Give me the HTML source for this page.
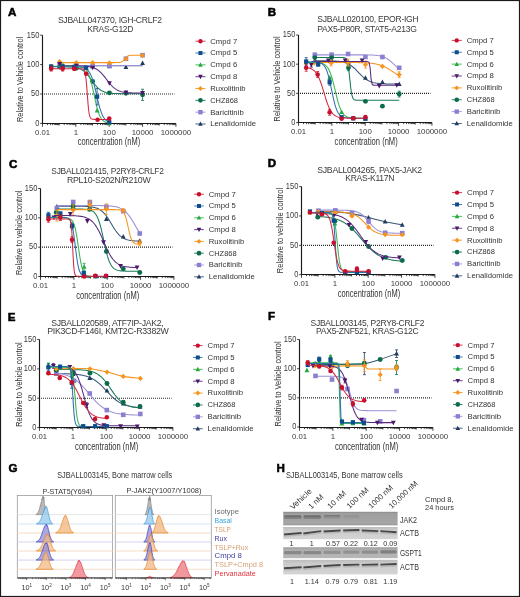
<!DOCTYPE html>
<html><head><meta charset="utf-8"><style>
html,body{margin:0;padding:0;background:#fff;}
svg{display:block;font-family:"Liberation Sans", sans-serif;will-change:transform;}
</style></head><body>
<svg width="520" height="597" viewBox="0 0 520 597">
<rect x="0" y="0" width="520" height="597" fill="#fff"/>
<text x="8.10" y="15.90" font-size="11.6" fill="#000" font-weight="bold" stroke="#000" stroke-width="0.55">A</text>
<text x="57.90" y="22.60" font-size="9.6" textLength="103.85" lengthAdjust="spacingAndGlyphs" fill="#3a3a3a" letter-spacing="-0.3">SJBALL047370, IGH-CRLF2</text>
<text x="87.30" y="31.80" font-size="9.6" textLength="45.95" lengthAdjust="spacingAndGlyphs" fill="#3a3a3a" letter-spacing="-0.3">KRAS-G12D</text>
<path d="M42.50 35.20V123.50H175.94" fill="none" stroke="#1a1a1a" stroke-width="1.15"/>
<text x="39.30" y="125.70" font-size="8.4" text-anchor="end" textLength="4.15" lengthAdjust="spacingAndGlyphs" fill="#3a3a3a">0</text>
<text x="39.30" y="96.30" font-size="8.4" text-anchor="end" textLength="8.30" lengthAdjust="spacingAndGlyphs" fill="#3a3a3a">50</text>
<text x="39.30" y="66.90" font-size="8.4" text-anchor="end" textLength="12.45" lengthAdjust="spacingAndGlyphs" fill="#3a3a3a">100</text>
<text x="39.30" y="37.50" font-size="8.4" text-anchor="end" textLength="12.45" lengthAdjust="spacingAndGlyphs" fill="#3a3a3a">150</text>
<path d="M40.10 123.40H42.50M40.10 94.00H42.50M40.10 64.60H42.50M40.10 35.20H42.50M42.50 123.50v3.3M47.52 123.50v1.6M50.46 123.50v1.6M52.54 123.50v1.6M54.16 123.50v1.6M55.48 123.50v1.6M56.60 123.50v1.6M57.56 123.50v1.6M58.42 123.50v1.6M59.18 123.50v2.0M64.20 123.50v1.6M67.14 123.50v1.6M69.22 123.50v1.6M70.84 123.50v1.6M72.16 123.50v1.6M73.28 123.50v1.6M74.24 123.50v1.6M75.10 123.50v1.6M75.86 123.50v3.3M80.88 123.50v1.6M83.82 123.50v1.6M85.90 123.50v1.6M87.52 123.50v1.6M88.84 123.50v1.6M89.96 123.50v1.6M90.92 123.50v1.6M91.78 123.50v1.6M92.54 123.50v2.0M97.56 123.50v1.6M100.50 123.50v1.6M102.58 123.50v1.6M104.20 123.50v1.6M105.52 123.50v1.6M106.64 123.50v1.6M107.60 123.50v1.6M108.46 123.50v1.6M109.22 123.50v3.3M114.24 123.50v1.6M117.18 123.50v1.6M119.26 123.50v1.6M120.88 123.50v1.6M122.20 123.50v1.6M123.32 123.50v1.6M124.28 123.50v1.6M125.14 123.50v1.6M125.90 123.50v2.0M130.92 123.50v1.6M133.86 123.50v1.6M135.94 123.50v1.6M137.56 123.50v1.6M138.88 123.50v1.6M140.00 123.50v1.6M140.96 123.50v1.6M141.82 123.50v1.6M142.58 123.50v3.3M147.60 123.50v1.6M150.54 123.50v1.6M152.62 123.50v1.6M154.24 123.50v1.6M155.56 123.50v1.6M156.68 123.50v1.6M157.64 123.50v1.6M158.50 123.50v1.6M159.26 123.50v2.0M164.28 123.50v1.6M167.22 123.50v1.6M169.30 123.50v1.6M170.92 123.50v1.6M172.24 123.50v1.6M173.36 123.50v1.6M174.32 123.50v1.6M175.18 123.50v1.6M175.94 123.50v3.3" stroke="#1a1a1a" stroke-width="0.8" fill="none"/>
<text x="42.50" y="134.90" font-size="8.0" text-anchor="middle" textLength="15.01" lengthAdjust="spacingAndGlyphs" fill="#3a3a3a">0.01</text>
<text x="75.86" y="134.90" font-size="8.0" text-anchor="middle" textLength="4.37" lengthAdjust="spacingAndGlyphs" fill="#3a3a3a">1</text>
<text x="109.22" y="134.90" font-size="8.0" text-anchor="middle" textLength="13.11" lengthAdjust="spacingAndGlyphs" fill="#3a3a3a">100</text>
<text x="142.58" y="134.90" font-size="8.0" text-anchor="middle" textLength="21.85" lengthAdjust="spacingAndGlyphs" fill="#3a3a3a">10000</text>
<text x="175.94" y="134.90" font-size="8.0" text-anchor="middle" textLength="30.59" lengthAdjust="spacingAndGlyphs" fill="#3a3a3a">1000000</text>
<text x="77.70" y="145.40" font-size="10.0" textLength="62.50" lengthAdjust="spacingAndGlyphs" fill="#333">concentration (nM)</text>
<text x="23.20" y="79.40" font-size="9.6" text-anchor="middle" textLength="85.40" lengthAdjust="spacingAndGlyphs" fill="#333" transform="rotate(-90 23.20 79.40)">Relative to Vehicle control</text>
<path d="M44.00 94.00H174.44" stroke="#222" stroke-width="1.2" stroke-dasharray="1 1" fill="none"/>
<path d="M195.40 41.20H205.50" stroke="#d42a40" stroke-width="1.0" opacity="0.9"/>
<circle cx="200.45" cy="41.20" r="2.18" fill="#c8102e"/>
<text x="210.20" y="43.60" font-size="8.1" textLength="27.00" lengthAdjust="spacingAndGlyphs" fill="#333">Cmpd 7</text>
<path d="M195.40 53.03H205.50" stroke="#2f6fb0" stroke-width="1.0" opacity="0.9"/>
<rect x="198.45" y="51.04" width="3.99" height="3.99" fill="#0d4d8c"/>
<text x="210.20" y="55.43" font-size="8.1" textLength="27.00" lengthAdjust="spacingAndGlyphs" fill="#333">Cmpd 5</text>
<path d="M195.40 64.86H205.50" stroke="#38b54e" stroke-width="1.0" opacity="0.9"/>
<path d="M200.45 62.35L202.73 66.68L198.17 66.68Z" fill="#27a83f"/>
<text x="210.20" y="67.26" font-size="8.1" textLength="27.00" lengthAdjust="spacingAndGlyphs" fill="#333">Cmpd 6</text>
<path d="M195.40 76.69H205.50" stroke="#5a2a80" stroke-width="1.0" opacity="0.9"/>
<path d="M200.45 79.20L202.73 74.87L198.17 74.87Z" fill="#4a1769"/>
<text x="210.20" y="79.09" font-size="8.1" textLength="27.00" lengthAdjust="spacingAndGlyphs" fill="#333">Cmpd 8</text>
<path d="M195.40 88.52H205.50" stroke="#f7941d" stroke-width="1.0" opacity="0.9"/>
<path d="M200.45 86.05L202.92 88.52L200.45 90.99L197.98 88.52Z" fill="#f7941d"/>
<text x="210.20" y="90.92" font-size="8.1" textLength="35.40" lengthAdjust="spacingAndGlyphs" fill="#333">Ruxolitinib</text>
<path d="M195.40 100.35H205.50" stroke="#1a7a58" stroke-width="1.0" opacity="0.9"/>
<circle cx="200.45" cy="100.35" r="2.33" fill="#0b6b4a"/>
<text x="210.20" y="102.75" font-size="8.1" textLength="27.80" lengthAdjust="spacingAndGlyphs" fill="#333">CHZ868</text>
<path d="M195.40 112.18H205.50" stroke="#9a90d8" stroke-width="1.0" opacity="0.9"/>
<rect x="198.26" y="110.00" width="4.37" height="4.37" fill="#8b7fd0"/>
<text x="210.20" y="114.58" font-size="8.1" textLength="33.50" lengthAdjust="spacingAndGlyphs" fill="#333">Baricitinib</text>
<path d="M195.40 124.01H205.50" stroke="#3a5576" stroke-width="1.0" opacity="0.9"/>
<path d="M200.45 121.50L202.73 125.83L198.17 125.83Z" fill="#1e3a5c"/>
<text x="210.20" y="126.41" font-size="8.1" textLength="45.90" lengthAdjust="spacingAndGlyphs" fill="#333">Lenalidomide</text>
<path d="M59.15 65.78L142.57 65.78" stroke="#3a5576" stroke-width="1.05" fill="none"/>
<path d="M59.65 63.14L62.05 67.70L57.25 67.70Z" fill="#1e3a5c"/>
<path d="M76.30 63.72L78.70 68.28L73.90 68.28Z" fill="#1e3a5c"/>
<path d="M92.62 63.72L95.02 68.28L90.22 68.28Z" fill="#1e3a5c"/>
<path d="M109.43 63.72L111.83 68.28L107.03 68.28Z" fill="#1e3a5c"/>
<path d="M125.92 64.49L128.32 69.05L123.52 69.05Z" fill="#1e3a5c"/>
<path d="M142.57 60.55L144.97 65.11L140.17 65.11Z" fill="#1e3a5c"/>
<path d="M59.15 65.48L142.57 65.48" stroke="#9a90d8" stroke-width="1.05" fill="none"/>
<rect x="57.35" y="62.30" width="4.60" height="4.60" fill="#8b7fd0"/>
<rect x="74.00" y="63.48" width="4.60" height="4.60" fill="#8b7fd0"/>
<rect x="90.32" y="63.48" width="4.60" height="4.60" fill="#8b7fd0"/>
<rect x="107.13" y="63.36" width="4.60" height="4.60" fill="#8b7fd0"/>
<rect x="123.62" y="56.42" width="4.60" height="4.60" fill="#8b7fd0"/>
<rect x="140.27" y="52.89" width="4.60" height="4.60" fill="#8b7fd0"/>
<path d="M59.15 66.69L60.19 66.70L61.24 66.71L62.28 66.72L63.32 66.73L64.36 66.75L65.41 66.78L66.45 66.80L67.49 66.84L68.53 66.88L69.58 66.93L70.62 67.00L71.66 67.08L72.71 67.18L73.75 67.31L74.79 67.46L75.83 67.64L76.88 67.87L77.92 68.15L78.96 68.48L80.00 68.89L81.05 69.37L82.09 69.95L83.13 70.63L84.17 71.42L85.22 72.33L86.26 73.36L87.30 74.50L88.35 75.76L89.39 77.11L90.43 78.53L91.47 79.98L92.52 81.44L93.56 82.87L94.60 84.24L95.64 85.52L96.69 86.70L97.73 87.77L98.77 88.71L99.82 89.53L100.86 90.24L101.90 90.84L102.94 91.35L103.99 91.78L105.03 92.13L106.07 92.42L107.11 92.66L108.16 92.86L109.20 93.02L110.24 93.15L111.29 93.26L112.33 93.34L113.37 93.41L114.41 93.47L115.46 93.51L116.50 93.55L117.54 93.58L118.58 93.61L119.63 93.63L120.67 93.64L121.71 93.65L122.76 93.66L123.80 93.67L124.84 93.68L125.88 93.68L126.93 93.69L127.97 93.69L129.01 93.69L130.05 93.70L131.10 93.70L132.14 93.70L133.18 93.70L134.22 93.70L135.27 93.70L136.31 93.70L137.35 93.70L138.40 93.70L139.44 93.70L140.48 93.70L141.52 93.71L142.57 93.71" stroke="#1a7a58" stroke-width="1.05" fill="none"/>
<circle cx="59.65" cy="66.95" r="2.45" fill="#0b6b4a"/>
<circle cx="76.30" cy="68.13" r="2.45" fill="#0b6b4a"/>
<circle cx="92.62" cy="81.48" r="2.45" fill="#0b6b4a"/>
<circle cx="109.43" cy="92.88" r="2.45" fill="#0b6b4a"/>
<circle cx="125.92" cy="93.29" r="2.45" fill="#0b6b4a"/>
<path d="M142.57 89.24V100.41M141.07 89.24h3M141.07 100.41h3" stroke="#0b6b4a" stroke-width="0.8" fill="none"/>
<circle cx="142.57" cy="94.82" r="2.45" fill="#0b6b4a"/>
<path d="M59.15 62.60L60.19 62.60L61.24 62.60L62.28 62.60L63.32 62.60L64.36 62.60L65.41 62.60L66.45 62.60L67.49 62.60L68.53 62.60L69.58 62.60L70.62 62.60L71.66 62.60L72.71 62.60L73.75 62.60L74.79 62.60L75.83 62.60L76.88 62.60L77.92 62.60L78.96 62.60L80.00 62.60L81.05 62.60L82.09 62.60L83.13 62.60L84.17 62.60L85.22 62.60L86.26 62.60L87.30 62.60L88.35 62.60L89.39 62.60L90.43 62.60L91.47 62.60L92.52 62.60L93.56 62.60L94.60 62.60L95.64 62.60L96.69 62.60L97.73 62.60L98.77 62.60L99.82 62.60L100.86 62.60L101.90 62.60L102.94 62.60L103.99 62.60L105.03 62.60L106.07 62.60L107.11 62.60L108.16 62.60L109.20 62.60L110.24 62.60L111.29 62.60L112.33 62.60L113.37 62.60L114.41 62.60L115.46 62.59L116.50 62.58L117.54 62.56L118.58 62.51L119.63 62.41L120.67 62.23L121.71 61.87L122.76 61.24L123.80 60.26L124.84 59.00L125.88 57.70L126.93 56.67L127.97 55.99L129.01 55.60L130.05 55.40L131.10 55.29L132.14 55.24L133.18 55.22L134.22 55.20L135.27 55.20L136.31 55.19L137.35 55.19L138.40 55.19L139.44 55.19L140.48 55.19L141.52 55.19L142.57 55.19" stroke="#f7941d" stroke-width="1.05" fill="none"/>
<path d="M59.65 59.06L62.25 61.66L59.65 64.26L57.05 61.66Z" fill="#f7941d"/>
<path d="M76.30 60.06L78.90 62.66L76.30 65.26L73.70 62.66Z" fill="#f7941d"/>
<path d="M92.62 60.00L95.22 62.60L92.62 65.20L90.02 62.60Z" fill="#f7941d"/>
<path d="M109.43 60.35L112.03 62.95L109.43 65.55L106.83 62.95Z" fill="#f7941d"/>
<path d="M125.92 56.36L128.52 58.96L125.92 61.56L123.32 58.96Z" fill="#f7941d"/>
<path d="M142.57 52.89L145.17 55.49L142.57 58.09L139.97 55.49Z" fill="#f7941d"/>
<path d="M59.15 65.78L60.19 65.78L61.24 65.78L62.28 65.78L63.32 65.78L64.36 65.78L65.41 65.79L66.45 65.79L67.49 65.79L68.53 65.79L69.58 65.80L70.62 65.80L71.66 65.81L72.71 65.81L73.75 65.82L74.79 65.83L75.83 65.85L76.88 65.86L77.92 65.88L78.96 65.91L80.00 65.93L81.05 65.97L82.09 66.01L83.13 66.06L84.17 66.13L85.22 66.20L86.26 66.30L87.30 66.41L88.35 66.55L89.39 66.72L90.43 66.92L91.47 67.16L92.52 67.45L93.56 67.80L94.60 68.21L95.64 68.70L96.69 69.27L97.73 69.94L98.77 70.70L99.82 71.57L100.86 72.54L101.90 73.62L102.94 74.80L103.99 76.06L105.03 77.38L106.07 78.75L107.11 80.12L108.16 81.49L109.20 82.81L110.24 84.07L111.29 85.25L112.33 86.33L113.37 87.31L114.41 88.18L115.46 88.94L116.50 89.61L117.54 90.18L118.58 90.67L119.63 91.09L120.67 91.43L121.71 91.73L122.76 91.97L123.80 92.17L124.84 92.34L125.88 92.48L126.93 92.59L127.97 92.69L129.01 92.77L130.05 92.83L131.10 92.88L132.14 92.92L133.18 92.96L134.22 92.99L135.27 93.01L136.31 93.03L137.35 93.05L138.40 93.06L139.44 93.07L140.48 93.08L141.52 93.09L142.57 93.09" stroke="#5a2a80" stroke-width="1.05" fill="none"/>
<path d="M59.65 66.65L62.05 62.09L57.25 62.09Z" fill="#4a1769"/>
<path d="M76.30 68.42L78.70 63.86L73.90 63.86Z" fill="#4a1769"/>
<path d="M92.62 70.36L95.02 65.80L90.22 65.80Z" fill="#4a1769"/>
<path d="M109.43 85.76L111.83 81.20L107.03 81.20Z" fill="#4a1769"/>
<path d="M125.92 95.17L128.32 90.61L123.52 90.61Z" fill="#4a1769"/>
<path d="M142.57 95.46L144.97 90.90L140.17 90.90Z" fill="#4a1769"/>
<path d="M50.83 66.36L51.56 66.36L52.29 66.36L53.02 66.36L53.76 66.36L54.49 66.36L55.22 66.36L55.95 66.36L56.69 66.36L57.42 66.36L58.15 66.36L58.88 66.36L59.62 66.36L60.35 66.36L61.08 66.36L61.81 66.37L62.55 66.37L63.28 66.37L64.01 66.37L64.74 66.37L65.48 66.37L66.21 66.37L66.94 66.37L67.67 66.37L68.41 66.38L69.14 66.38L69.87 66.38L70.61 66.39L71.34 66.39L72.07 66.40L72.80 66.41L73.54 66.43L74.27 66.44L75.00 66.46L75.73 66.49L76.47 66.53L77.20 66.57L77.93 66.63L78.66 66.70L79.40 66.79L80.13 66.91L80.86 67.06L81.59 67.24L82.33 67.48L83.06 67.78L83.79 68.16L84.52 68.63L85.26 69.23L85.99 69.97L86.72 70.88L87.45 72.00L88.19 73.36L88.92 75.00L89.65 76.93L90.39 79.19L91.12 81.76L91.85 84.64L92.58 87.78L93.32 91.12L94.05 94.57L94.78 98.02L95.51 101.38L96.25 104.57L96.98 107.50L97.71 110.13L98.44 112.45L99.18 114.44L99.91 116.13L100.64 117.54L101.37 118.70L102.11 119.65L102.84 120.41L103.57 121.03L104.30 121.53L105.04 121.92L105.77 122.23L106.50 122.48L107.24 122.68L107.97 122.83L108.70 122.95L109.43 123.05" stroke="#38b54e" stroke-width="1.05" fill="none"/>
<path d="M51.16 63.72L53.56 68.28L48.76 68.28Z" fill="#27a83f"/>
<path d="M62.98 62.55L65.38 67.11L60.58 67.11Z" fill="#27a83f"/>
<path d="M74.13 63.72L76.53 68.28L71.73 68.28Z" fill="#27a83f"/>
<path d="M86.12 64.90L88.52 69.46L83.72 69.46Z" fill="#27a83f"/>
<path d="M97.11 107.82L99.51 112.38L94.71 112.38Z" fill="#27a83f"/>
<path d="M109.27 120.76L111.67 125.32L106.87 125.32Z" fill="#27a83f"/>
<path d="M50.83 66.66L51.56 66.66L52.29 66.66L53.02 66.66L53.76 66.66L54.49 66.66L55.22 66.66L55.95 66.66L56.69 66.66L57.42 66.66L58.15 66.66L58.88 66.66L59.62 66.66L60.35 66.66L61.08 66.66L61.81 66.66L62.55 66.66L63.28 66.66L64.01 66.66L64.74 66.66L65.48 66.66L66.21 66.66L66.94 66.66L67.67 66.67L68.41 66.67L69.14 66.67L69.87 66.67L70.61 66.68L71.34 66.68L72.07 66.69L72.80 66.70L73.54 66.71L74.27 66.72L75.00 66.74L75.73 66.76L76.47 66.78L77.20 66.81L77.93 66.85L78.66 66.90L79.40 66.96L80.13 67.03L80.86 67.12L81.59 67.24L82.33 67.38L83.06 67.56L83.79 67.78L84.52 68.06L85.26 68.40L85.99 68.81L86.72 69.33L87.45 69.95L88.19 70.72L88.92 71.64L89.65 72.75L90.39 74.08L91.12 75.63L91.85 77.45L92.58 79.53L93.32 81.88L94.05 84.49L94.78 87.32L95.51 90.33L96.25 93.45L96.98 96.61L97.71 99.73L98.44 102.74L99.18 105.57L99.91 108.17L100.64 110.53L101.37 112.61L102.11 114.42L102.84 115.98L103.57 117.31L104.30 118.42L105.04 119.34L105.77 120.10L106.50 120.73L107.24 121.24L107.97 121.66L108.70 122.00L109.43 122.27" stroke="#2f6fb0" stroke-width="1.05" fill="none"/>
<rect x="49.06" y="64.26" width="4.20" height="4.20" fill="#0d4d8c"/>
<rect x="60.55" y="64.26" width="4.20" height="4.20" fill="#0d4d8c"/>
<rect x="72.03" y="64.85" width="4.20" height="4.20" fill="#0d4d8c"/>
<rect x="84.02" y="65.62" width="4.20" height="4.20" fill="#0d4d8c"/>
<path d="M97.11 88.47V104.94M95.61 88.47h3M95.61 104.94h3" stroke="#0d4d8c" stroke-width="0.8" fill="none"/>
<rect x="95.01" y="94.60" width="4.20" height="4.20" fill="#0d4d8c"/>
<rect x="107.17" y="120.12" width="4.20" height="4.20" fill="#0d4d8c"/>
<path d="M50.83 68.72L51.56 68.72L52.29 68.72L53.02 68.72L53.76 68.72L54.49 68.72L55.22 68.72L55.95 68.72L56.69 68.72L57.42 68.72L58.15 68.72L58.88 68.72L59.62 68.72L60.35 68.72L61.08 68.72L61.81 68.72L62.55 68.72L63.28 68.72L64.01 68.72L64.74 68.72L65.48 68.72L66.21 68.72L66.94 68.72L67.67 68.72L68.41 68.72L69.14 68.72L69.87 68.72L70.61 68.72L71.34 68.72L72.07 68.72L72.80 68.72L73.54 68.72L74.27 68.72L75.00 68.72L75.73 68.72L76.47 68.72L77.20 68.72L77.93 68.72L78.66 68.72L79.40 68.72L80.13 68.73L80.86 68.76L81.59 68.81L82.33 68.92L83.06 69.18L83.79 69.75L84.52 70.99L85.26 73.56L85.99 78.45L86.72 86.37L87.45 96.39L88.19 105.72L88.92 112.24L89.65 115.95L90.39 117.81L91.12 118.68L91.85 119.08L92.58 119.26L93.32 119.34L94.05 119.37L94.78 119.39L95.51 119.40L96.25 119.40L96.98 119.40L97.71 119.40L98.44 119.40L99.18 119.40L99.91 119.40L100.64 119.40L101.37 119.40L102.11 119.40L102.84 119.40L103.57 119.40L104.30 119.40L105.04 119.40L105.77 119.40L106.50 119.40L107.24 119.40L107.97 119.40L108.70 119.40L109.43 119.40" stroke="#d42a40" stroke-width="1.05" fill="none"/>
<path d="M51.16 66.36V71.07M49.66 66.36h3M49.66 71.07h3" stroke="#c8102e" stroke-width="0.8" fill="none"/>
<circle cx="51.16" cy="68.72" r="2.30" fill="#c8102e"/>
<path d="M62.65 66.36V71.07M61.15 66.36h3M61.15 71.07h3" stroke="#c8102e" stroke-width="0.8" fill="none"/>
<circle cx="62.65" cy="68.72" r="2.30" fill="#c8102e"/>
<path d="M74.30 66.95V70.48M72.80 66.95h3M72.80 70.48h3" stroke="#c8102e" stroke-width="0.8" fill="none"/>
<circle cx="74.30" cy="68.72" r="2.30" fill="#c8102e"/>
<circle cx="86.12" cy="73.71" r="2.30" fill="#c8102e"/>
<circle cx="97.61" cy="119.70" r="2.30" fill="#c8102e"/>
<circle cx="109.27" cy="118.58" r="2.30" fill="#c8102e"/>
<text x="267.70" y="15.50" font-size="11.6" fill="#000" font-weight="bold" stroke="#000" stroke-width="0.55">B</text>
<text x="317.30" y="22.10" font-size="9.6" textLength="101.20" lengthAdjust="spacingAndGlyphs" fill="#3a3a3a" letter-spacing="-0.3">SJBALL020100, EPOR-IGH</text>
<text x="317.20" y="31.90" font-size="9.6" textLength="99.50" lengthAdjust="spacingAndGlyphs" fill="#3a3a3a" letter-spacing="-0.3">PAX5-P80R, STAT5-A213G</text>
<path d="M298.50 35.00V122.50H431.94" fill="none" stroke="#1a1a1a" stroke-width="1.15"/>
<text x="295.30" y="124.90" font-size="8.4" text-anchor="end" textLength="4.15" lengthAdjust="spacingAndGlyphs" fill="#3a3a3a">0</text>
<text x="295.30" y="95.70" font-size="8.4" text-anchor="end" textLength="8.30" lengthAdjust="spacingAndGlyphs" fill="#3a3a3a">50</text>
<text x="295.30" y="66.50" font-size="8.4" text-anchor="end" textLength="12.45" lengthAdjust="spacingAndGlyphs" fill="#3a3a3a">100</text>
<text x="295.30" y="37.30" font-size="8.4" text-anchor="end" textLength="12.45" lengthAdjust="spacingAndGlyphs" fill="#3a3a3a">150</text>
<path d="M296.10 122.60H298.50M296.10 93.40H298.50M296.10 64.20H298.50M296.10 35.00H298.50M298.50 122.50v3.3M303.52 122.50v1.6M306.46 122.50v1.6M308.54 122.50v1.6M310.16 122.50v1.6M311.48 122.50v1.6M312.60 122.50v1.6M313.56 122.50v1.6M314.42 122.50v1.6M315.18 122.50v2.0M320.20 122.50v1.6M323.14 122.50v1.6M325.22 122.50v1.6M326.84 122.50v1.6M328.16 122.50v1.6M329.28 122.50v1.6M330.24 122.50v1.6M331.10 122.50v1.6M331.86 122.50v3.3M336.88 122.50v1.6M339.82 122.50v1.6M341.90 122.50v1.6M343.52 122.50v1.6M344.84 122.50v1.6M345.96 122.50v1.6M346.92 122.50v1.6M347.78 122.50v1.6M348.54 122.50v2.0M353.56 122.50v1.6M356.50 122.50v1.6M358.58 122.50v1.6M360.20 122.50v1.6M361.52 122.50v1.6M362.64 122.50v1.6M363.60 122.50v1.6M364.46 122.50v1.6M365.22 122.50v3.3M370.24 122.50v1.6M373.18 122.50v1.6M375.26 122.50v1.6M376.88 122.50v1.6M378.20 122.50v1.6M379.32 122.50v1.6M380.28 122.50v1.6M381.14 122.50v1.6M381.90 122.50v2.0M386.92 122.50v1.6M389.86 122.50v1.6M391.94 122.50v1.6M393.56 122.50v1.6M394.88 122.50v1.6M396.00 122.50v1.6M396.96 122.50v1.6M397.82 122.50v1.6M398.58 122.50v3.3M403.60 122.50v1.6M406.54 122.50v1.6M408.62 122.50v1.6M410.24 122.50v1.6M411.56 122.50v1.6M412.68 122.50v1.6M413.64 122.50v1.6M414.50 122.50v1.6M415.26 122.50v2.0M420.28 122.50v1.6M423.22 122.50v1.6M425.30 122.50v1.6M426.92 122.50v1.6M428.24 122.50v1.6M429.36 122.50v1.6M430.32 122.50v1.6M431.18 122.50v1.6M431.94 122.50v3.3" stroke="#1a1a1a" stroke-width="0.8" fill="none"/>
<text x="298.50" y="134.10" font-size="8.0" text-anchor="middle" textLength="15.01" lengthAdjust="spacingAndGlyphs" fill="#3a3a3a">0.01</text>
<text x="331.86" y="134.10" font-size="8.0" text-anchor="middle" textLength="4.37" lengthAdjust="spacingAndGlyphs" fill="#3a3a3a">1</text>
<text x="365.22" y="134.10" font-size="8.0" text-anchor="middle" textLength="13.11" lengthAdjust="spacingAndGlyphs" fill="#3a3a3a">100</text>
<text x="398.58" y="134.10" font-size="8.0" text-anchor="middle" textLength="21.85" lengthAdjust="spacingAndGlyphs" fill="#3a3a3a">10000</text>
<text x="431.94" y="134.10" font-size="8.0" text-anchor="middle" textLength="30.59" lengthAdjust="spacingAndGlyphs" fill="#3a3a3a">1000000</text>
<text x="334.60" y="145.20" font-size="10.0" textLength="63.10" lengthAdjust="spacingAndGlyphs" fill="#333">concentration (nM)</text>
<text x="280.10" y="78.90" font-size="9.6" text-anchor="middle" textLength="85.00" lengthAdjust="spacingAndGlyphs" fill="#333" transform="rotate(-90 280.10 78.90)">Relative to Vehicle control</text>
<path d="M300.00 93.40H430.44" stroke="#222" stroke-width="1.2" stroke-dasharray="1 1" fill="none"/>
<path d="M451.70 40.40H461.80" stroke="#d42a40" stroke-width="1.0" opacity="0.9"/>
<circle cx="456.75" cy="40.40" r="2.18" fill="#c8102e"/>
<text x="466.80" y="42.80" font-size="8.1" textLength="27.00" lengthAdjust="spacingAndGlyphs" fill="#333">Cmpd 7</text>
<path d="M451.70 52.27H461.80" stroke="#2f6fb0" stroke-width="1.0" opacity="0.9"/>
<rect x="454.75" y="50.27" width="3.99" height="3.99" fill="#0d4d8c"/>
<text x="466.80" y="54.67" font-size="8.1" textLength="27.00" lengthAdjust="spacingAndGlyphs" fill="#333">Cmpd 5</text>
<path d="M451.70 64.14H461.80" stroke="#38b54e" stroke-width="1.0" opacity="0.9"/>
<path d="M456.75 61.63L459.03 65.96L454.47 65.96Z" fill="#27a83f"/>
<text x="466.80" y="66.54" font-size="8.1" textLength="27.00" lengthAdjust="spacingAndGlyphs" fill="#333">Cmpd 6</text>
<path d="M451.70 76.01H461.80" stroke="#5a2a80" stroke-width="1.0" opacity="0.9"/>
<path d="M456.75 78.52L459.03 74.19L454.47 74.19Z" fill="#4a1769"/>
<text x="466.80" y="78.41" font-size="8.1" textLength="27.00" lengthAdjust="spacingAndGlyphs" fill="#333">Cmpd 8</text>
<path d="M451.70 87.88H461.80" stroke="#f7941d" stroke-width="1.0" opacity="0.9"/>
<path d="M456.75 85.41L459.22 87.88L456.75 90.35L454.28 87.88Z" fill="#f7941d"/>
<text x="466.80" y="90.28" font-size="8.1" textLength="35.40" lengthAdjust="spacingAndGlyphs" fill="#333">Ruxolitinib</text>
<path d="M451.70 99.75H461.80" stroke="#1a7a58" stroke-width="1.0" opacity="0.9"/>
<circle cx="456.75" cy="99.75" r="2.33" fill="#0b6b4a"/>
<text x="466.80" y="102.15" font-size="8.1" textLength="27.80" lengthAdjust="spacingAndGlyphs" fill="#333">CHZ868</text>
<path d="M451.70 111.62H461.80" stroke="#9a90d8" stroke-width="1.0" opacity="0.9"/>
<rect x="454.56" y="109.44" width="4.37" height="4.37" fill="#8b7fd0"/>
<text x="466.80" y="114.02" font-size="8.1" textLength="33.50" lengthAdjust="spacingAndGlyphs" fill="#333">Baricitinib</text>
<path d="M451.70 123.49H461.80" stroke="#3a5576" stroke-width="1.0" opacity="0.9"/>
<path d="M456.75 120.98L459.03 125.31L454.47 125.31Z" fill="#1e3a5c"/>
<text x="466.80" y="125.89" font-size="8.1" textLength="45.90" lengthAdjust="spacingAndGlyphs" fill="#333">Lenalidomide</text>
<path d="M314.65 60.70L315.71 60.71L316.77 60.71L317.82 60.71L318.88 60.72L319.94 60.72L320.99 60.72L322.05 60.73L323.11 60.74L324.17 60.75L325.22 60.76L326.28 60.77L327.34 60.78L328.40 60.80L329.45 60.82L330.51 60.85L331.57 60.88L332.62 60.92L333.68 60.97L334.74 61.02L335.80 61.09L336.85 61.17L337.91 61.26L338.97 61.38L340.03 61.52L341.08 61.68L342.14 61.88L343.20 62.11L344.25 62.39L345.31 62.71L346.37 63.09L347.43 63.53L348.48 64.04L349.54 64.62L350.60 65.28L351.66 66.02L352.71 66.84L353.77 67.74L354.83 68.71L355.88 69.74L356.94 70.81L358.00 71.91L359.06 73.02L360.11 74.12L361.17 75.19L362.23 76.21L363.29 77.16L364.34 78.05L365.40 78.86L366.46 79.59L367.51 80.23L368.57 80.80L369.63 81.30L370.69 81.73L371.74 82.10L372.80 82.41L373.86 82.68L374.92 82.91L375.97 83.10L377.03 83.26L378.09 83.39L379.14 83.50L380.20 83.60L381.26 83.68L382.32 83.74L383.37 83.79L384.43 83.84L385.49 83.88L386.55 83.91L387.60 83.93L388.66 83.95L389.72 83.97L390.77 83.99L391.83 84.00L392.89 84.01L393.95 84.02L395.00 84.02L396.06 84.03L397.12 84.03L398.18 84.04L399.23 84.04" stroke="#3a5576" stroke-width="1.05" fill="none"/>
<path d="M314.82 58.06L317.22 62.62L312.42 62.62Z" fill="#1e3a5c"/>
<path d="M331.63 58.06L334.03 62.62L329.23 62.62Z" fill="#1e3a5c"/>
<path d="M348.45 59.81L350.85 64.37L346.05 64.37Z" fill="#1e3a5c"/>
<path d="M365.43 75.23L367.83 79.79L363.03 79.79Z" fill="#1e3a5c"/>
<path d="M382.42 79.55L384.82 84.11L380.02 84.11Z" fill="#1e3a5c"/>
<path d="M399.23 81.42L401.63 85.98L396.83 85.98Z" fill="#1e3a5c"/>
<path d="M314.65 54.86L315.71 54.86L316.77 54.86L317.82 54.86L318.88 54.86L319.94 54.86L320.99 54.86L322.05 54.86L323.11 54.86L324.17 54.86L325.22 54.86L326.28 54.86L327.34 54.86L328.40 54.86L329.45 54.86L330.51 54.86L331.57 54.86L332.62 54.86L333.68 54.86L334.74 54.86L335.80 54.86L336.85 54.86L337.91 54.86L338.97 54.86L340.03 54.86L341.08 54.86L342.14 54.86L343.20 54.86L344.25 54.86L345.31 54.86L346.37 54.86L347.43 54.86L348.48 54.86L349.54 54.86L350.60 54.86L351.66 54.86L352.71 54.86L353.77 54.86L354.83 54.86L355.88 54.86L356.94 54.87L358.00 54.87L359.06 54.87L360.11 54.87L361.17 54.88L362.23 54.88L363.29 54.89L364.34 54.90L365.40 54.91L366.46 54.92L367.51 54.94L368.57 54.96L369.63 54.99L370.69 55.02L371.74 55.06L372.80 55.10L373.86 55.16L374.92 55.24L375.97 55.33L377.03 55.44L378.09 55.58L379.14 55.75L380.20 55.96L381.26 56.20L382.32 56.51L383.37 56.86L384.43 57.29L385.49 57.79L386.55 58.37L387.60 59.03L388.66 59.78L389.72 60.61L390.77 61.50L391.83 62.44L392.89 63.42L393.95 64.42L395.00 65.40L396.06 66.34L397.12 67.23L398.18 68.05L399.23 68.80" stroke="#9a90d8" stroke-width="1.05" fill="none"/>
<rect x="312.52" y="52.44" width="4.60" height="4.60" fill="#8b7fd0"/>
<rect x="329.33" y="52.38" width="4.60" height="4.60" fill="#8b7fd0"/>
<rect x="345.82" y="51.68" width="4.60" height="4.60" fill="#8b7fd0"/>
<rect x="363.13" y="54.66" width="4.60" height="4.60" fill="#8b7fd0"/>
<rect x="380.12" y="54.66" width="4.60" height="4.60" fill="#8b7fd0"/>
<rect x="396.93" y="65.52" width="4.60" height="4.60" fill="#8b7fd0"/>
<path d="M314.65 57.48L315.71 57.48L316.77 57.48L317.82 57.48L318.88 57.48L319.94 57.48L320.99 57.48L322.05 57.48L323.11 57.48L324.17 57.48L325.22 57.48L326.28 57.48L327.34 57.48L328.40 57.48L329.45 57.48L330.51 57.48L331.57 57.48L332.62 57.48L333.68 57.48L334.74 57.48L335.80 57.48L336.85 57.48L337.91 57.48L338.97 57.49L340.03 57.49L341.08 57.49L342.14 57.51L343.20 57.56L344.25 57.69L345.31 58.04L346.37 59.00L347.43 61.45L348.48 66.95L349.54 76.37L350.60 86.89L351.66 94.24L352.71 97.87L353.77 99.35L354.83 99.91L355.88 100.12L356.94 100.19L358.00 100.22L359.06 100.23L360.11 100.23L361.17 100.23L362.23 100.23L363.29 100.23L364.34 100.23L365.40 100.23L366.46 100.23L367.51 100.23L368.57 100.23L369.63 100.23L370.69 100.23L371.74 100.23L372.80 100.23L373.86 100.23L374.92 100.23L375.97 100.23L377.03 100.23L378.09 100.23L379.14 100.23L380.20 100.23L381.26 100.23L382.32 100.23L383.37 100.23L384.43 100.23L385.49 100.23L386.55 100.23L387.60 100.23L388.66 100.23L389.72 100.23L390.77 100.23L391.83 100.23L392.89 100.23L393.95 100.23L395.00 100.23L396.06 100.23L397.12 100.23L398.18 100.23L399.23 100.23" stroke="#1a7a58" stroke-width="1.05" fill="none"/>
<circle cx="314.82" cy="57.60" r="2.45" fill="#0b6b4a"/>
<circle cx="331.63" cy="57.60" r="2.45" fill="#0b6b4a"/>
<path d="M348.45 64.90V70.74M346.95 64.90h3M346.95 70.74h3" stroke="#0b6b4a" stroke-width="0.8" fill="none"/>
<circle cx="348.45" cy="67.82" r="2.45" fill="#0b6b4a"/>
<circle cx="365.43" cy="101.34" r="2.45" fill="#0b6b4a"/>
<circle cx="382.42" cy="106.13" r="2.45" fill="#0b6b4a"/>
<path d="M399.23 91.18V97.02M397.73 91.18h3M397.73 97.02h3" stroke="#0b6b4a" stroke-width="0.8" fill="none"/>
<circle cx="399.23" cy="94.10" r="2.45" fill="#0b6b4a"/>
<path d="M314.32 62.45L315.38 62.45L316.44 62.45L317.50 62.45L318.56 62.45L319.62 62.45L320.69 62.45L321.75 62.45L322.81 62.45L323.87 62.45L324.93 62.45L325.99 62.45L327.05 62.45L328.12 62.45L329.18 62.45L330.24 62.45L331.30 62.45L332.36 62.45L333.42 62.45L334.48 62.45L335.55 62.45L336.61 62.46L337.67 62.46L338.73 62.46L339.79 62.46L340.85 62.46L341.91 62.46L342.98 62.47L344.04 62.47L345.10 62.47L346.16 62.48L347.22 62.48L348.28 62.49L349.34 62.49L350.41 62.50L351.47 62.51L352.53 62.52L353.59 62.53L354.65 62.54L355.71 62.55L356.77 62.57L357.84 62.59L358.90 62.61L359.96 62.64L361.02 62.66L362.08 62.70L363.14 62.74L364.21 62.78L365.27 62.83L366.33 62.89L367.39 62.96L368.45 63.04L369.51 63.13L370.57 63.23L371.64 63.35L372.70 63.49L373.76 63.64L374.82 63.82L375.88 64.02L376.94 64.24L378.00 64.50L379.07 64.78L380.13 65.10L381.19 65.45L382.25 65.84L383.31 66.27L384.37 66.74L385.43 67.25L386.50 67.80L387.56 68.39L388.62 69.01L389.68 69.66L390.74 70.33L391.80 71.02L392.86 71.72L393.93 72.43L394.99 73.13L396.05 73.83L397.11 74.50L398.17 75.15L399.23 75.77" stroke="#f7941d" stroke-width="1.05" fill="none"/>
<path d="M314.32 60.32L316.92 62.92L314.32 65.52L311.72 62.92Z" fill="#f7941d"/>
<path d="M331.13 60.00V65.84M329.63 60.00h3M329.63 65.84h3" stroke="#f7941d" stroke-width="0.8" fill="none"/>
<path d="M331.13 60.32L333.73 62.92L331.13 65.52L328.53 62.92Z" fill="#f7941d"/>
<path d="M348.12 59.18V66.19M346.62 59.18h3M346.62 66.19h3" stroke="#f7941d" stroke-width="0.8" fill="none"/>
<path d="M348.12 60.08L350.72 62.68L348.12 65.28L345.52 62.68Z" fill="#f7941d"/>
<path d="M365.43 61.16V68.17M363.93 61.16h3M363.93 68.17h3" stroke="#f7941d" stroke-width="0.8" fill="none"/>
<path d="M365.43 62.07L368.03 64.67L365.43 67.27L362.83 64.67Z" fill="#f7941d"/>
<path d="M382.42 63.70L385.02 66.30L382.42 68.90L379.82 66.30Z" fill="#f7941d"/>
<path d="M399.23 71.79V77.63M397.73 71.79h3M397.73 77.63h3" stroke="#f7941d" stroke-width="0.8" fill="none"/>
<path d="M399.23 72.11L401.83 74.71L399.23 77.31L396.63 74.71Z" fill="#f7941d"/>
<path d="M311.32 61.57L312.39 61.57L313.46 61.57L314.52 61.57L315.59 61.57L316.66 61.57L317.73 61.57L318.79 61.57L319.86 61.57L320.93 61.57L322.00 61.57L323.06 61.57L324.13 61.57L325.20 61.57L326.27 61.57L327.34 61.57L328.40 61.57L329.47 61.57L330.54 61.57L331.61 61.57L332.67 61.57L333.74 61.57L334.81 61.57L335.88 61.57L336.94 61.57L338.01 61.57L339.08 61.57L340.15 61.57L341.22 61.57L342.28 61.57L343.35 61.57L344.42 61.57L345.49 61.57L346.55 61.57L347.62 61.57L348.69 61.57L349.76 61.57L350.82 61.57L351.89 61.57L352.96 61.57L354.03 61.57L355.10 61.57L356.16 61.57L357.23 61.57L358.30 61.57L359.37 61.57L360.43 61.57L361.50 61.57L362.57 61.57L363.64 61.57L364.70 61.57L365.77 61.57L366.84 61.58L367.91 61.66L368.98 62.37L370.04 67.29L371.11 79.19L372.18 84.37L373.25 85.13L374.31 85.21L375.38 85.22L376.45 85.22L377.52 85.22L378.58 85.22L379.65 85.22L380.72 85.22L381.79 85.22L382.86 85.22L383.92 85.22L384.99 85.22L386.06 85.22L387.13 85.22L388.19 85.22L389.26 85.22L390.33 85.22L391.40 85.22L392.46 85.22L393.53 85.22L394.60 85.22L395.67 85.22L396.74 85.22" stroke="#5a2a80" stroke-width="1.05" fill="none"/>
<path d="M311.32 62.45V67.12M309.82 62.45h3M309.82 67.12h3" stroke="#4a1769" stroke-width="0.8" fill="none"/>
<path d="M311.32 67.42L313.72 62.86L308.92 62.86Z" fill="#4a1769"/>
<path d="M328.30 63.10L330.70 58.54L325.90 58.54Z" fill="#4a1769"/>
<path d="M345.12 63.10L347.52 58.54L342.72 58.54Z" fill="#4a1769"/>
<path d="M362.10 63.04L364.50 58.48L359.70 58.48Z" fill="#4a1769"/>
<path d="M379.25 88.51L381.65 83.95L376.85 83.95Z" fill="#4a1769"/>
<path d="M396.74 87.86L399.13 83.30L394.34 83.30Z" fill="#4a1769"/>
<path d="M305.99 62.46L306.74 62.46L307.48 62.46L308.22 62.46L308.96 62.47L309.71 62.47L310.45 62.48L311.19 62.49L311.94 62.50L312.68 62.51L313.42 62.52L314.17 62.54L314.91 62.57L315.65 62.60L316.39 62.63L317.14 62.68L317.88 62.74L318.62 62.81L319.37 62.91L320.11 63.02L320.85 63.16L321.60 63.34L322.34 63.56L323.08 63.84L323.82 64.18L324.57 64.60L325.31 65.12L326.05 65.76L326.80 66.54L327.54 67.49L328.28 68.62L329.03 69.98L329.77 71.58L330.51 73.44L331.25 75.57L332.00 77.97L332.74 80.62L333.48 83.49L334.23 86.53L334.97 89.65L335.71 92.80L336.46 95.88L337.20 98.83L337.94 101.58L338.68 104.10L339.43 106.35L340.17 108.32L340.91 110.03L341.66 111.49L342.40 112.72L343.14 113.74L343.89 114.59L344.63 115.28L345.37 115.85L346.11 116.32L346.86 116.69L347.60 116.99L348.34 117.24L349.09 117.43L349.83 117.59L350.57 117.72L351.32 117.82L352.06 117.90L352.80 117.96L353.54 118.02L354.29 118.06L355.03 118.09L355.77 118.12L356.52 118.14L357.26 118.15L358.00 118.17L358.75 118.18L359.49 118.19L360.23 118.19L360.97 118.20L361.72 118.20L362.46 118.21L363.20 118.21L363.95 118.21L364.69 118.21L365.43 118.21" stroke="#38b54e" stroke-width="1.05" fill="none"/>
<path d="M306.16 59.81L308.56 64.37L303.76 64.37Z" fill="#27a83f"/>
<path d="M318.15 61.56L320.55 66.12L315.75 66.12Z" fill="#27a83f"/>
<path d="M329.64 74.93L332.04 79.49L327.24 79.49Z" fill="#27a83f"/>
<path d="M341.62 109.51L344.02 114.07L339.22 114.07Z" fill="#27a83f"/>
<path d="M353.28 115.58L355.68 120.14L350.88 120.14Z" fill="#27a83f"/>
<path d="M365.43 115.58L367.83 120.14L363.03 120.14Z" fill="#27a83f"/>
<path d="M305.99 61.87L306.74 61.87L307.48 61.88L308.22 61.88L308.96 61.89L309.71 61.89L310.45 61.90L311.19 61.91L311.94 61.93L312.68 61.94L313.42 61.97L314.17 62.00L314.91 62.04L315.65 62.09L316.39 62.15L317.14 62.24L317.88 62.35L318.62 62.48L319.37 62.66L320.11 62.89L320.85 63.19L321.60 63.56L322.34 64.04L323.08 64.65L323.82 65.41L324.57 66.37L325.31 67.56L326.05 69.01L326.80 70.78L327.54 72.88L328.28 75.33L329.03 78.14L329.77 81.26L330.51 84.65L331.25 88.20L332.00 91.81L332.74 95.37L333.48 98.76L334.23 101.89L334.97 104.70L335.71 107.16L336.46 109.27L337.20 111.04L337.94 112.50L338.68 113.69L339.43 114.65L340.17 115.42L340.91 116.03L341.66 116.51L342.40 116.89L343.14 117.19L343.89 117.42L344.63 117.60L345.37 117.74L346.11 117.85L346.86 117.93L347.60 118.00L348.34 118.05L349.09 118.09L349.83 118.12L350.57 118.14L351.32 118.16L352.06 118.17L352.80 118.18L353.54 118.19L354.29 118.20L355.03 118.20L355.77 118.21L356.52 118.21L357.26 118.21L358.00 118.21L358.75 118.22L359.49 118.22L360.23 118.22L360.97 118.22L361.72 118.22L362.46 118.22L363.20 118.22L363.95 118.22L364.69 118.22L365.43 118.22" stroke="#2f6fb0" stroke-width="1.05" fill="none"/>
<path d="M306.16 57.66V65.37M304.66 57.66h3M304.66 65.37h3" stroke="#0d4d8c" stroke-width="0.8" fill="none"/>
<rect x="304.06" y="59.41" width="4.20" height="4.20" fill="#0d4d8c"/>
<path d="M318.15 62.62V66.13M316.65 62.62h3M316.65 66.13h3" stroke="#0d4d8c" stroke-width="0.8" fill="none"/>
<rect x="316.05" y="62.28" width="4.20" height="4.20" fill="#0d4d8c"/>
<path d="M329.64 79.27V85.11M328.14 79.27h3M328.14 85.11h3" stroke="#0d4d8c" stroke-width="0.8" fill="none"/>
<rect x="327.54" y="80.09" width="4.20" height="4.20" fill="#0d4d8c"/>
<rect x="339.52" y="115.07" width="4.20" height="4.20" fill="#0d4d8c"/>
<rect x="351.18" y="116.18" width="4.20" height="4.20" fill="#0d4d8c"/>
<rect x="363.33" y="116.70" width="4.20" height="4.20" fill="#0d4d8c"/>
<path d="M305.99 67.57L306.74 67.67L307.48 67.78L308.22 67.92L308.96 68.09L309.71 68.30L310.45 68.54L311.19 68.84L311.94 69.19L312.68 69.62L313.42 70.13L314.17 70.73L314.91 71.44L315.65 72.28L316.39 73.26L317.14 74.39L317.88 75.70L318.62 77.18L319.37 78.85L320.11 80.71L320.85 82.74L321.60 84.94L322.34 87.26L323.08 89.69L323.82 92.17L324.57 94.66L325.31 97.11L326.05 99.48L326.80 101.73L327.54 103.83L328.28 105.76L329.03 107.51L329.77 109.07L330.51 110.44L331.25 111.65L332.00 112.69L332.74 113.58L333.48 114.34L334.23 114.98L334.97 115.53L335.71 115.98L336.46 116.37L337.20 116.69L337.94 116.95L338.68 117.17L339.43 117.35L340.17 117.51L340.91 117.63L341.66 117.73L342.40 117.82L343.14 117.89L343.89 117.95L344.63 118.00L345.37 118.04L346.11 118.07L346.86 118.10L347.60 118.12L348.34 118.14L349.09 118.15L349.83 118.16L350.57 118.17L351.32 118.18L352.06 118.19L352.80 118.19L353.54 118.20L354.29 118.20L355.03 118.21L355.77 118.21L356.52 118.21L357.26 118.21L358.00 118.21L358.75 118.21L359.49 118.22L360.23 118.22L360.97 118.22L361.72 118.22L362.46 118.22L363.20 118.22L363.95 118.22L364.69 118.22L365.43 118.22" stroke="#d42a40" stroke-width="1.05" fill="none"/>
<path d="M306.16 64.20V71.21M304.66 64.20h3M304.66 71.21h3" stroke="#c8102e" stroke-width="0.8" fill="none"/>
<circle cx="306.16" cy="67.70" r="2.30" fill="#c8102e"/>
<path d="M317.65 71.56V77.40M316.15 71.56h3M316.15 77.40h3" stroke="#c8102e" stroke-width="0.8" fill="none"/>
<circle cx="317.65" cy="74.48" r="2.30" fill="#c8102e"/>
<path d="M329.64 109.34V115.18M328.14 109.34h3M328.14 115.18h3" stroke="#c8102e" stroke-width="0.8" fill="none"/>
<circle cx="329.64" cy="112.26" r="2.30" fill="#c8102e"/>
<circle cx="341.62" cy="118.80" r="2.30" fill="#c8102e"/>
<circle cx="353.28" cy="118.28" r="2.30" fill="#c8102e"/>
<path d="M365.43 116.00V118.34M363.93 116.00h3M363.93 118.34h3" stroke="#c8102e" stroke-width="0.8" fill="none"/>
<circle cx="365.43" cy="117.17" r="2.30" fill="#c8102e"/>
<text x="8.90" y="168.00" font-size="11.6" fill="#000" font-weight="bold" stroke="#000" stroke-width="0.55">C</text>
<text x="51.30" y="173.60" font-size="9.6" textLength="112.30" lengthAdjust="spacingAndGlyphs" fill="#3a3a3a" letter-spacing="-0.3">SJBALL021415, P2RY8-CRLF2</text>
<text x="66.90" y="182.60" font-size="9.6" textLength="83.50" lengthAdjust="spacingAndGlyphs" fill="#3a3a3a" letter-spacing="-0.3">RPL10-S202N/R210W</text>
<path d="M40.50 188.50V276.50H173.94" fill="none" stroke="#1a1a1a" stroke-width="1.15"/>
<text x="37.30" y="278.80" font-size="8.4" text-anchor="end" textLength="4.15" lengthAdjust="spacingAndGlyphs" fill="#3a3a3a">0</text>
<text x="37.30" y="249.47" font-size="8.4" text-anchor="end" textLength="8.30" lengthAdjust="spacingAndGlyphs" fill="#3a3a3a">50</text>
<text x="37.30" y="220.13" font-size="8.4" text-anchor="end" textLength="12.45" lengthAdjust="spacingAndGlyphs" fill="#3a3a3a">100</text>
<text x="37.30" y="190.80" font-size="8.4" text-anchor="end" textLength="12.45" lengthAdjust="spacingAndGlyphs" fill="#3a3a3a">150</text>
<path d="M38.10 276.50H40.50M38.10 247.17H40.50M38.10 217.83H40.50M38.10 188.50H40.50M40.50 276.50v3.3M45.52 276.50v1.6M48.46 276.50v1.6M50.54 276.50v1.6M52.16 276.50v1.6M53.48 276.50v1.6M54.60 276.50v1.6M55.56 276.50v1.6M56.42 276.50v1.6M57.18 276.50v2.0M62.20 276.50v1.6M65.14 276.50v1.6M67.22 276.50v1.6M68.84 276.50v1.6M70.16 276.50v1.6M71.28 276.50v1.6M72.24 276.50v1.6M73.10 276.50v1.6M73.86 276.50v3.3M78.88 276.50v1.6M81.82 276.50v1.6M83.90 276.50v1.6M85.52 276.50v1.6M86.84 276.50v1.6M87.96 276.50v1.6M88.92 276.50v1.6M89.78 276.50v1.6M90.54 276.50v2.0M95.56 276.50v1.6M98.50 276.50v1.6M100.58 276.50v1.6M102.20 276.50v1.6M103.52 276.50v1.6M104.64 276.50v1.6M105.60 276.50v1.6M106.46 276.50v1.6M107.22 276.50v3.3M112.24 276.50v1.6M115.18 276.50v1.6M117.26 276.50v1.6M118.88 276.50v1.6M120.20 276.50v1.6M121.32 276.50v1.6M122.28 276.50v1.6M123.14 276.50v1.6M123.90 276.50v2.0M128.92 276.50v1.6M131.86 276.50v1.6M133.94 276.50v1.6M135.56 276.50v1.6M136.88 276.50v1.6M138.00 276.50v1.6M138.96 276.50v1.6M139.82 276.50v1.6M140.58 276.50v3.3M145.60 276.50v1.6M148.54 276.50v1.6M150.62 276.50v1.6M152.24 276.50v1.6M153.56 276.50v1.6M154.68 276.50v1.6M155.64 276.50v1.6M156.50 276.50v1.6M157.26 276.50v2.0M162.28 276.50v1.6M165.22 276.50v1.6M167.30 276.50v1.6M168.92 276.50v1.6M170.24 276.50v1.6M171.36 276.50v1.6M172.32 276.50v1.6M173.18 276.50v1.6M173.94 276.50v3.3" stroke="#1a1a1a" stroke-width="0.8" fill="none"/>
<text x="40.50" y="288.00" font-size="8.0" text-anchor="middle" textLength="15.01" lengthAdjust="spacingAndGlyphs" fill="#3a3a3a">0.01</text>
<text x="73.86" y="288.00" font-size="8.0" text-anchor="middle" textLength="4.37" lengthAdjust="spacingAndGlyphs" fill="#3a3a3a">1</text>
<text x="107.22" y="288.00" font-size="8.0" text-anchor="middle" textLength="13.11" lengthAdjust="spacingAndGlyphs" fill="#3a3a3a">100</text>
<text x="140.58" y="288.00" font-size="8.0" text-anchor="middle" textLength="21.85" lengthAdjust="spacingAndGlyphs" fill="#3a3a3a">10000</text>
<text x="173.94" y="288.00" font-size="8.0" text-anchor="middle" textLength="30.59" lengthAdjust="spacingAndGlyphs" fill="#3a3a3a">1000000</text>
<text x="76.20" y="298.80" font-size="10.0" textLength="63.00" lengthAdjust="spacingAndGlyphs" fill="#333">concentration (nM)</text>
<text x="22.40" y="232.80" font-size="9.6" text-anchor="middle" textLength="84.40" lengthAdjust="spacingAndGlyphs" fill="#333" transform="rotate(-90 22.40 232.80)">Relative to vehicle control</text>
<path d="M42.00 247.17H172.44" stroke="#222" stroke-width="1.2" stroke-dasharray="1 1" fill="none"/>
<path d="M194.20 194.20H203.80" stroke="#d42a40" stroke-width="1.0" opacity="0.9"/>
<circle cx="199.00" cy="194.20" r="2.18" fill="#c8102e"/>
<text x="208.80" y="196.60" font-size="8.1" textLength="27.00" lengthAdjust="spacingAndGlyphs" fill="#333">Cmpd 7</text>
<path d="M194.20 206.00H203.80" stroke="#2f6fb0" stroke-width="1.0" opacity="0.9"/>
<rect x="197.00" y="204.00" width="3.99" height="3.99" fill="#0d4d8c"/>
<text x="208.80" y="208.40" font-size="8.1" textLength="27.00" lengthAdjust="spacingAndGlyphs" fill="#333">Cmpd 5</text>
<path d="M194.20 217.80H203.80" stroke="#38b54e" stroke-width="1.0" opacity="0.9"/>
<path d="M199.00 215.29L201.28 219.62L196.72 219.62Z" fill="#27a83f"/>
<text x="208.80" y="220.20" font-size="8.1" textLength="27.00" lengthAdjust="spacingAndGlyphs" fill="#333">Cmpd 6</text>
<path d="M194.20 229.60H203.80" stroke="#5a2a80" stroke-width="1.0" opacity="0.9"/>
<path d="M199.00 232.11L201.28 227.78L196.72 227.78Z" fill="#4a1769"/>
<text x="208.80" y="232.00" font-size="8.1" textLength="27.00" lengthAdjust="spacingAndGlyphs" fill="#333">Cmpd 8</text>
<path d="M194.20 241.40H203.80" stroke="#f7941d" stroke-width="1.0" opacity="0.9"/>
<path d="M199.00 238.93L201.47 241.40L199.00 243.87L196.53 241.40Z" fill="#f7941d"/>
<text x="208.80" y="243.80" font-size="8.1" textLength="35.40" lengthAdjust="spacingAndGlyphs" fill="#333">Ruxolitinib</text>
<path d="M194.20 253.20H203.80" stroke="#1a7a58" stroke-width="1.0" opacity="0.9"/>
<circle cx="199.00" cy="253.20" r="2.33" fill="#0b6b4a"/>
<text x="208.80" y="255.60" font-size="8.1" textLength="27.80" lengthAdjust="spacingAndGlyphs" fill="#333">CHZ868</text>
<path d="M194.20 265.00H203.80" stroke="#9a90d8" stroke-width="1.0" opacity="0.9"/>
<rect x="196.81" y="262.81" width="4.37" height="4.37" fill="#8b7fd0"/>
<text x="208.80" y="267.40" font-size="8.1" textLength="33.50" lengthAdjust="spacingAndGlyphs" fill="#333">Baricitinib</text>
<path d="M194.20 276.80H203.80" stroke="#3a5576" stroke-width="1.0" opacity="0.9"/>
<path d="M199.00 274.29L201.28 278.62L196.72 278.62Z" fill="#1e3a5c"/>
<text x="208.80" y="279.20" font-size="8.1" textLength="45.90" lengthAdjust="spacingAndGlyphs" fill="#333">Lenalidomide</text>
<path d="M56.84 206.10L57.88 206.10L58.92 206.10L59.95 206.10L60.99 206.10L62.03 206.10L63.06 206.10L64.10 206.10L65.13 206.11L66.17 206.11L67.21 206.11L68.24 206.11L69.28 206.11L70.32 206.11L71.35 206.12L72.39 206.12L73.42 206.13L74.46 206.13L75.50 206.14L76.53 206.15L77.57 206.16L78.61 206.17L79.64 206.18L80.68 206.20L81.72 206.22L82.75 206.25L83.79 206.28L84.82 206.32L85.86 206.37L86.90 206.43L87.93 206.50L88.97 206.59L90.01 206.69L91.04 206.82L92.08 206.97L93.11 207.16L94.15 207.38L95.19 207.65L96.22 207.97L97.26 208.36L98.30 208.81L99.33 209.35L100.37 209.99L101.40 210.73L102.44 211.59L103.48 212.57L104.51 213.68L105.55 214.93L106.59 216.30L107.62 217.80L108.66 219.39L109.69 221.07L110.73 222.79L111.77 224.54L112.80 226.26L113.84 227.94L114.88 229.54L115.91 231.04L116.95 232.42L117.98 233.67L119.02 234.79L120.06 235.78L121.09 236.64L122.13 237.38L123.17 238.02L124.20 238.57L125.24 239.03L126.27 239.41L127.31 239.74L128.35 240.01L129.38 240.23L130.42 240.42L131.46 240.58L132.49 240.70L133.53 240.81L134.57 240.90L135.60 240.97L136.64 241.03L137.67 241.08L138.71 241.12L139.75 241.15" stroke="#3a5576" stroke-width="1.05" fill="none"/>
<path d="M56.84 204.05L59.24 208.61L54.44 208.61Z" fill="#1e3a5c"/>
<path d="M73.19 204.05L75.59 208.61L70.79 208.61Z" fill="#1e3a5c"/>
<path d="M89.87 204.63L92.27 209.19L87.47 209.19Z" fill="#1e3a5c"/>
<path d="M106.38 216.37L108.78 220.93L103.98 220.93Z" fill="#1e3a5c"/>
<path d="M123.23 234.03L125.63 238.59L120.83 238.59Z" fill="#1e3a5c"/>
<path d="M139.75 238.19L142.15 242.75L137.35 242.75Z" fill="#1e3a5c"/>
<path d="M56.84 205.51L57.88 205.51L58.92 205.51L59.95 205.51L60.99 205.51L62.03 205.51L63.06 205.51L64.10 205.51L65.13 205.51L66.17 205.51L67.21 205.51L68.24 205.51L69.28 205.51L70.32 205.51L71.35 205.51L72.39 205.51L73.42 205.51L74.46 205.51L75.50 205.51L76.53 205.51L77.57 205.51L78.61 205.52L79.64 205.52L80.68 205.52L81.72 205.52L82.75 205.52L83.79 205.52L84.82 205.52L85.86 205.52L86.90 205.52L87.93 205.52L88.97 205.52L90.01 205.53L91.04 205.53L92.08 205.53L93.11 205.54L94.15 205.54L95.19 205.55L96.22 205.55L97.26 205.56L98.30 205.57L99.33 205.58L100.37 205.60L101.40 205.61L102.44 205.64L103.48 205.66L104.51 205.69L105.55 205.72L106.59 205.77L107.62 205.82L108.66 205.88L109.69 205.95L110.73 206.04L111.77 206.14L112.80 206.27L113.84 206.42L114.88 206.59L115.91 206.81L116.95 207.06L117.98 207.35L119.02 207.70L120.06 208.12L121.09 208.60L122.13 209.17L123.17 209.82L124.20 210.58L125.24 211.45L126.27 212.43L127.31 213.54L128.35 214.78L129.38 216.13L130.42 217.61L131.46 219.19L132.49 220.86L133.53 222.59L134.57 224.37L135.60 226.15L136.64 227.91L137.67 229.61L138.71 231.25L139.75 232.79" stroke="#9a90d8" stroke-width="1.05" fill="none"/>
<rect x="54.54" y="205.79" width="4.60" height="4.60" fill="#8b7fd0"/>
<rect x="70.89" y="199.69" width="4.60" height="4.60" fill="#8b7fd0"/>
<rect x="87.57" y="199.75" width="4.60" height="4.60" fill="#8b7fd0"/>
<rect x="104.08" y="204.39" width="4.60" height="4.60" fill="#8b7fd0"/>
<rect x="120.93" y="208.90" width="4.60" height="4.60" fill="#8b7fd0"/>
<rect x="137.45" y="231.20" width="4.60" height="4.60" fill="#8b7fd0"/>
<path d="M56.51 209.03L57.55 209.03L58.59 209.03L59.63 209.03L60.67 209.03L61.71 209.03L62.75 209.03L63.79 209.03L64.83 209.03L65.87 209.03L66.91 209.03L67.95 209.03L68.99 209.04L70.03 209.04L71.07 209.04L72.11 209.04L73.16 209.04L74.20 209.04L75.24 209.05L76.28 209.05L77.32 209.06L78.36 209.06L79.40 209.08L80.44 209.09L81.48 209.11L82.52 209.14L83.56 209.18L84.60 209.23L85.64 209.31L86.68 209.41L87.72 209.54L88.76 209.73L89.80 209.98L90.84 210.31L91.88 210.77L92.92 211.39L93.97 212.21L95.01 213.29L96.05 214.71L97.09 216.55L98.13 218.87L99.17 221.75L100.21 225.20L101.25 229.21L102.29 233.68L103.33 238.45L104.37 243.31L105.41 248.00L106.45 252.35L107.49 256.19L108.53 259.47L109.57 262.16L110.61 264.33L111.65 266.02L112.69 267.33L113.73 268.33L114.77 269.08L115.82 269.64L116.86 270.06L117.90 270.36L118.94 270.59L119.98 270.76L121.02 270.88L122.06 270.97L123.10 271.04L124.14 271.09L125.18 271.12L126.22 271.15L127.26 271.17L128.30 271.18L129.34 271.19L130.38 271.20L131.42 271.21L132.46 271.21L133.50 271.21L134.54 271.21L135.58 271.22L136.63 271.22L137.67 271.22L138.71 271.22L139.75 271.22" stroke="#1a7a58" stroke-width="1.05" fill="none"/>
<circle cx="56.17" cy="212.38" r="2.45" fill="#0b6b4a"/>
<circle cx="73.02" cy="206.28" r="2.45" fill="#0b6b4a"/>
<circle cx="89.53" cy="209.39" r="2.45" fill="#0b6b4a"/>
<circle cx="106.38" cy="251.45" r="2.45" fill="#0b6b4a"/>
<circle cx="123.23" cy="268.76" r="2.45" fill="#0b6b4a"/>
<circle cx="139.75" cy="272.51" r="2.45" fill="#0b6b4a"/>
<path d="M56.84 209.62L57.88 209.62L58.92 209.62L59.95 209.62L60.99 209.62L62.03 209.62L63.06 209.62L64.10 209.62L65.13 209.62L66.17 209.62L67.21 209.62L68.24 209.62L69.28 209.62L70.32 209.62L71.35 209.62L72.39 209.62L73.42 209.62L74.46 209.62L75.50 209.62L76.53 209.62L77.57 209.62L78.61 209.62L79.64 209.62L80.68 209.62L81.72 209.62L82.75 209.62L83.79 209.62L84.82 209.62L85.86 209.62L86.90 209.62L87.93 209.62L88.97 209.62L90.01 209.62L91.04 209.62L92.08 209.62L93.11 209.62L94.15 209.62L95.19 209.62L96.22 209.62L97.26 209.62L98.30 209.62L99.33 209.62L100.37 209.62L101.40 209.62L102.44 209.62L103.48 209.62L104.51 209.62L105.55 209.62L106.59 209.62L107.62 209.62L108.66 209.62L109.69 209.62L110.73 209.62L111.77 209.62L112.80 209.63L113.84 209.63L114.88 209.64L115.91 209.66L116.95 209.70L117.98 209.76L119.02 209.86L120.06 210.04L121.09 210.35L122.13 210.88L123.17 211.78L124.20 213.26L125.24 215.56L126.27 218.87L127.31 223.16L128.35 228.00L129.38 232.68L130.42 236.57L131.46 239.42L132.49 241.33L133.53 242.52L134.57 243.24L135.60 243.66L136.64 243.91L137.67 244.05L138.71 244.13L139.75 244.17" stroke="#f7941d" stroke-width="1.05" fill="none"/>
<path d="M56.84 210.50V221.06M55.34 210.50h3M55.34 221.06h3" stroke="#f7941d" stroke-width="0.8" fill="none"/>
<path d="M56.84 213.18L59.44 215.78L56.84 218.38L54.24 215.78Z" fill="#f7941d"/>
<path d="M73.19 204.75V215.31M71.69 204.75h3M71.69 215.31h3" stroke="#f7941d" stroke-width="0.8" fill="none"/>
<path d="M73.19 207.43L75.79 210.03L73.19 212.63L70.59 210.03Z" fill="#f7941d"/>
<path d="M89.87 200.82V209.03M88.37 200.82h3M88.37 209.03h3" stroke="#f7941d" stroke-width="0.8" fill="none"/>
<path d="M89.87 202.33L92.47 204.93L89.87 207.53L87.27 204.93Z" fill="#f7941d"/>
<path d="M106.38 203.81V214.37M104.88 203.81h3M104.88 214.37h3" stroke="#f7941d" stroke-width="0.8" fill="none"/>
<path d="M106.38 206.49L108.98 209.09L106.38 211.69L103.78 209.09Z" fill="#f7941d"/>
<path d="M123.23 208.74V212.26M121.73 208.74h3M121.73 212.26h3" stroke="#f7941d" stroke-width="0.8" fill="none"/>
<path d="M123.23 207.90L125.83 210.50L123.23 213.10L120.63 210.50Z" fill="#f7941d"/>
<path d="M139.75 240.07V245.93M138.25 240.07h3M138.25 245.93h3" stroke="#f7941d" stroke-width="0.8" fill="none"/>
<path d="M139.75 240.40L142.35 243.00L139.75 245.60L137.15 243.00Z" fill="#f7941d"/>
<path d="M53.98 215.49L55.02 215.50L56.06 215.50L57.10 215.50L58.13 215.50L59.17 215.51L60.21 215.51L61.25 215.51L62.29 215.52L63.33 215.53L64.36 215.53L65.40 215.54L66.44 215.56L67.48 215.57L68.52 215.59L69.56 215.61L70.59 215.63L71.63 215.66L72.67 215.70L73.71 215.74L74.75 215.79L75.79 215.85L76.82 215.92L77.86 216.01L78.90 216.12L79.94 216.24L80.98 216.39L82.02 216.57L83.05 216.79L84.09 217.05L85.13 217.35L86.17 217.71L87.21 218.14L88.25 218.64L89.28 219.24L90.32 219.93L91.36 220.74L92.40 221.68L93.44 222.76L94.48 224.00L95.52 225.39L96.55 226.96L97.59 228.69L98.63 230.60L99.67 232.65L100.71 234.84L101.75 237.13L102.78 239.50L103.82 241.91L104.86 244.30L105.90 246.66L106.94 248.93L107.98 251.08L109.01 253.10L110.05 254.96L111.09 256.65L112.13 258.17L113.17 259.53L114.21 260.72L115.24 261.76L116.28 262.67L117.32 263.44L118.36 264.11L119.40 264.68L120.44 265.17L121.47 265.57L122.51 265.92L123.55 266.21L124.59 266.46L125.63 266.66L126.67 266.83L127.71 266.98L128.74 267.10L129.78 267.20L130.82 267.28L131.86 267.35L132.90 267.41L133.94 267.46L134.97 267.50L136.01 267.53L137.05 267.56" stroke="#5a2a80" stroke-width="1.05" fill="none"/>
<path d="M53.98 220.06L56.38 215.50L51.58 215.50Z" fill="#4a1769"/>
<path d="M70.32 216.48L72.72 211.92L67.92 211.92Z" fill="#4a1769"/>
<path d="M87.34 223.64L89.74 219.08L84.94 219.08Z" fill="#4a1769"/>
<path d="M103.52 244.88L105.92 240.32L101.12 240.32Z" fill="#4a1769"/>
<path d="M120.54 268.46L122.94 263.90L118.14 263.90Z" fill="#4a1769"/>
<path d="M137.05 270.05L139.45 265.49L134.65 265.49Z" fill="#4a1769"/>
<path d="M48.42 217.83L49.14 217.83L49.86 217.83L50.58 217.83L51.30 217.83L52.02 217.83L52.74 217.83L53.46 217.83L54.18 217.83L54.90 217.83L55.62 217.83L56.34 217.83L57.06 217.84L57.78 217.84L58.50 217.84L59.22 217.84L59.94 217.84L60.67 217.85L61.39 217.85L62.11 217.86L62.83 217.87L63.55 217.88L64.27 217.90L64.99 217.93L65.71 217.97L66.43 218.02L67.15 218.10L67.87 218.21L68.59 218.36L69.31 218.58L70.03 218.88L70.75 219.30L71.47 219.88L72.19 220.68L72.91 221.77L73.63 223.24L74.35 225.19L75.07 227.71L75.79 230.87L76.51 234.69L77.23 239.11L77.95 243.96L78.67 249.00L79.39 253.93L80.11 258.49L80.83 262.48L81.56 265.82L82.28 268.51L83.00 270.61L83.72 272.20L84.44 273.39L85.16 274.26L85.88 274.89L86.60 275.35L87.32 275.68L88.04 275.92L88.76 276.09L89.48 276.21L90.20 276.29L90.92 276.35L91.64 276.40L92.36 276.43L93.08 276.45L93.80 276.46L94.52 276.47L95.24 276.48L95.96 276.49L96.68 276.49L97.40 276.49L98.12 276.50L98.84 276.50L99.56 276.50L100.28 276.50L101.00 276.50L101.72 276.50L102.44 276.50L103.17 276.50L103.89 276.50L104.61 276.50L105.33 276.50L106.05 276.50" stroke="#38b54e" stroke-width="1.05" fill="none"/>
<path d="M48.42 213.43L50.82 217.99L46.02 217.99Z" fill="#27a83f"/>
<path d="M60.38 213.43L62.78 217.99L57.98 217.99Z" fill="#27a83f"/>
<path d="M72.01 222.23L74.41 226.79L69.61 226.79Z" fill="#27a83f"/>
<path d="M84.14 263.36V270.40M82.64 263.36h3M82.64 270.40h3" stroke="#27a83f" stroke-width="0.8" fill="none"/>
<path d="M84.14 264.24L86.54 268.80L81.74 268.80Z" fill="#27a83f"/>
<path d="M95.60 273.57L98.00 278.13L93.20 278.13Z" fill="#27a83f"/>
<path d="M106.05 273.57L108.45 278.13L103.65 278.13Z" fill="#27a83f"/>
<path d="M48.42 217.25L49.14 217.25L49.86 217.25L50.58 217.25L51.30 217.25L52.02 217.25L52.74 217.25L53.46 217.25L54.18 217.25L54.90 217.25L55.62 217.25L56.34 217.25L57.06 217.25L57.78 217.25L58.50 217.25L59.22 217.26L59.94 217.26L60.67 217.27L61.39 217.27L62.11 217.29L62.83 217.31L63.55 217.34L64.27 217.38L64.99 217.45L65.71 217.54L66.43 217.69L67.15 217.90L67.87 218.21L68.59 218.66L69.31 219.32L70.03 220.27L70.75 221.62L71.47 223.50L72.19 226.07L72.91 229.45L73.63 233.71L74.35 238.76L75.07 244.39L75.79 250.20L76.51 255.77L77.23 260.72L77.95 264.84L78.67 268.10L79.39 270.56L80.11 272.36L80.83 273.64L81.56 274.54L82.28 275.16L83.00 275.59L83.72 275.88L84.44 276.08L85.16 276.22L85.88 276.31L86.60 276.37L87.32 276.41L88.04 276.44L88.76 276.46L89.48 276.47L90.20 276.48L90.92 276.49L91.64 276.49L92.36 276.49L93.08 276.50L93.80 276.50L94.52 276.50L95.24 276.50L95.96 276.50L96.68 276.50L97.40 276.50L98.12 276.50L98.84 276.50L99.56 276.50L100.28 276.50L101.00 276.50L101.72 276.50L102.44 276.50L103.17 276.50L103.89 276.50L104.61 276.50L105.33 276.50L106.05 276.50" stroke="#2f6fb0" stroke-width="1.05" fill="none"/>
<path d="M48.42 212.32V218.19M46.92 212.32h3M46.92 218.19h3" stroke="#0d4d8c" stroke-width="0.8" fill="none"/>
<rect x="46.32" y="213.15" width="4.20" height="4.20" fill="#0d4d8c"/>
<rect x="58.28" y="211.27" width="4.20" height="4.20" fill="#0d4d8c"/>
<path d="M72.01 223.11V228.98M70.51 223.11h3M70.51 228.98h3" stroke="#0d4d8c" stroke-width="0.8" fill="none"/>
<rect x="69.91" y="223.95" width="4.20" height="4.20" fill="#0d4d8c"/>
<rect x="81.70" y="270.88" width="4.20" height="4.20" fill="#0d4d8c"/>
<rect x="93.50" y="274.11" width="4.20" height="4.20" fill="#0d4d8c"/>
<rect x="103.95" y="274.11" width="4.20" height="4.20" fill="#0d4d8c"/>
<path d="M48.42 219.01L49.14 219.01L49.86 219.01L50.58 219.01L51.30 219.01L52.02 219.01L52.74 219.01L53.46 219.01L54.18 219.01L54.90 219.01L55.62 219.01L56.34 219.01L57.06 219.01L57.78 219.01L58.50 219.01L59.22 219.01L59.94 219.01L60.67 219.01L61.39 219.01L62.11 219.01L62.83 219.01L63.55 219.01L64.27 219.01L64.99 219.01L65.71 219.01L66.43 219.01L67.15 219.02L67.87 219.05L68.59 219.13L69.31 219.36L70.03 220.05L70.75 221.97L71.47 226.96L72.19 237.47L72.91 252.45L73.63 265.11L74.35 271.90L75.07 274.67L75.79 275.68L76.51 276.03L77.23 276.15L77.95 276.19L78.67 276.20L79.39 276.20L80.11 276.21L80.83 276.21L81.56 276.21L82.28 276.21L83.00 276.21L83.72 276.21L84.44 276.21L85.16 276.21L85.88 276.21L86.60 276.21L87.32 276.21L88.04 276.21L88.76 276.21L89.48 276.21L90.20 276.21L90.92 276.21L91.64 276.21L92.36 276.21L93.08 276.21L93.80 276.21L94.52 276.21L95.24 276.21L95.96 276.21L96.68 276.21L97.40 276.21L98.12 276.21L98.84 276.21L99.56 276.21L100.28 276.21L101.00 276.21L101.72 276.21L102.44 276.21L103.17 276.21L103.89 276.21L104.61 276.21L105.33 276.21L106.05 276.21" stroke="#d42a40" stroke-width="1.05" fill="none"/>
<path d="M48.42 216.37V222.23M46.92 216.37h3M46.92 222.23h3" stroke="#c8102e" stroke-width="0.8" fill="none"/>
<circle cx="48.42" cy="219.30" r="2.30" fill="#c8102e"/>
<path d="M60.38 214.61V220.47M58.88 214.61h3M58.88 220.47h3" stroke="#c8102e" stroke-width="0.8" fill="none"/>
<circle cx="60.38" cy="217.54" r="2.30" fill="#c8102e"/>
<path d="M72.01 236.78V242.65M70.51 236.78h3M70.51 242.65h3" stroke="#c8102e" stroke-width="0.8" fill="none"/>
<circle cx="72.01" cy="239.72" r="2.30" fill="#c8102e"/>
<circle cx="84.14" cy="276.50" r="2.30" fill="#c8102e"/>
<circle cx="95.26" cy="275.80" r="2.30" fill="#c8102e"/>
<circle cx="106.05" cy="275.80" r="2.30" fill="#c8102e"/>
<text x="267.70" y="167.00" font-size="11.6" fill="#000" font-weight="bold" stroke="#000" stroke-width="0.55">D</text>
<text x="317.20" y="172.90" font-size="9.6" textLength="104.70" lengthAdjust="spacingAndGlyphs" fill="#3a3a3a" letter-spacing="-0.3">SJBALL004265, PAX5-JAK2</text>
<text x="345.20" y="181.40" font-size="9.6" textLength="49.00" lengthAdjust="spacingAndGlyphs" fill="#3a3a3a" letter-spacing="-0.3">KRAS-K117N</text>
<path d="M301.50 186.60V274.50H434.94" fill="none" stroke="#1a1a1a" stroke-width="1.15"/>
<text x="298.30" y="277.00" font-size="8.4" text-anchor="end" textLength="4.15" lengthAdjust="spacingAndGlyphs" fill="#3a3a3a">0</text>
<text x="298.30" y="247.63" font-size="8.4" text-anchor="end" textLength="8.30" lengthAdjust="spacingAndGlyphs" fill="#3a3a3a">50</text>
<text x="298.30" y="218.27" font-size="8.4" text-anchor="end" textLength="12.45" lengthAdjust="spacingAndGlyphs" fill="#3a3a3a">100</text>
<text x="298.30" y="188.90" font-size="8.4" text-anchor="end" textLength="12.45" lengthAdjust="spacingAndGlyphs" fill="#3a3a3a">150</text>
<path d="M299.10 274.70H301.50M299.10 245.33H301.50M299.10 215.97H301.50M299.10 186.60H301.50M301.50 274.50v3.3M306.52 274.50v1.6M309.46 274.50v1.6M311.54 274.50v1.6M313.16 274.50v1.6M314.48 274.50v1.6M315.60 274.50v1.6M316.56 274.50v1.6M317.42 274.50v1.6M318.18 274.50v2.0M323.20 274.50v1.6M326.14 274.50v1.6M328.22 274.50v1.6M329.84 274.50v1.6M331.16 274.50v1.6M332.28 274.50v1.6M333.24 274.50v1.6M334.10 274.50v1.6M334.86 274.50v3.3M339.88 274.50v1.6M342.82 274.50v1.6M344.90 274.50v1.6M346.52 274.50v1.6M347.84 274.50v1.6M348.96 274.50v1.6M349.92 274.50v1.6M350.78 274.50v1.6M351.54 274.50v2.0M356.56 274.50v1.6M359.50 274.50v1.6M361.58 274.50v1.6M363.20 274.50v1.6M364.52 274.50v1.6M365.64 274.50v1.6M366.60 274.50v1.6M367.46 274.50v1.6M368.22 274.50v3.3M373.24 274.50v1.6M376.18 274.50v1.6M378.26 274.50v1.6M379.88 274.50v1.6M381.20 274.50v1.6M382.32 274.50v1.6M383.28 274.50v1.6M384.14 274.50v1.6M384.90 274.50v2.0M389.92 274.50v1.6M392.86 274.50v1.6M394.94 274.50v1.6M396.56 274.50v1.6M397.88 274.50v1.6M399.00 274.50v1.6M399.96 274.50v1.6M400.82 274.50v1.6M401.58 274.50v3.3M406.60 274.50v1.6M409.54 274.50v1.6M411.62 274.50v1.6M413.24 274.50v1.6M414.56 274.50v1.6M415.68 274.50v1.6M416.64 274.50v1.6M417.50 274.50v1.6M418.26 274.50v2.0M423.28 274.50v1.6M426.22 274.50v1.6M428.30 274.50v1.6M429.92 274.50v1.6M431.24 274.50v1.6M432.36 274.50v1.6M433.32 274.50v1.6M434.18 274.50v1.6M434.94 274.50v3.3" stroke="#1a1a1a" stroke-width="0.8" fill="none"/>
<text x="301.50" y="286.20" font-size="8.0" text-anchor="middle" textLength="15.01" lengthAdjust="spacingAndGlyphs" fill="#3a3a3a">0.01</text>
<text x="334.86" y="286.20" font-size="8.0" text-anchor="middle" textLength="4.37" lengthAdjust="spacingAndGlyphs" fill="#3a3a3a">1</text>
<text x="368.22" y="286.20" font-size="8.0" text-anchor="middle" textLength="13.11" lengthAdjust="spacingAndGlyphs" fill="#3a3a3a">100</text>
<text x="401.58" y="286.20" font-size="8.0" text-anchor="middle" textLength="21.85" lengthAdjust="spacingAndGlyphs" fill="#3a3a3a">10000</text>
<text x="434.94" y="286.20" font-size="8.0" text-anchor="middle" textLength="30.59" lengthAdjust="spacingAndGlyphs" fill="#3a3a3a">1000000</text>
<text x="337.70" y="296.80" font-size="10.0" textLength="62.50" lengthAdjust="spacingAndGlyphs" fill="#333">concentration (nM)</text>
<text x="283.30" y="230.50" font-size="9.6" text-anchor="middle" textLength="85.30" lengthAdjust="spacingAndGlyphs" fill="#333" transform="rotate(-90 283.30 230.50)">Relative to vehcile control</text>
<path d="M303.00 245.33H433.44" stroke="#222" stroke-width="1.2" stroke-dasharray="1 1" fill="none"/>
<path d="M452.00 192.60H462.10" stroke="#d42a40" stroke-width="1.0" opacity="0.9"/>
<circle cx="457.05" cy="192.60" r="2.18" fill="#c8102e"/>
<text x="467.10" y="195.00" font-size="8.1" textLength="27.00" lengthAdjust="spacingAndGlyphs" fill="#333">Cmpd 7</text>
<path d="M452.00 204.49H462.10" stroke="#2f6fb0" stroke-width="1.0" opacity="0.9"/>
<rect x="455.06" y="202.50" width="3.99" height="3.99" fill="#0d4d8c"/>
<text x="467.10" y="206.89" font-size="8.1" textLength="27.00" lengthAdjust="spacingAndGlyphs" fill="#333">Cmpd 5</text>
<path d="M452.00 216.38H462.10" stroke="#38b54e" stroke-width="1.0" opacity="0.9"/>
<path d="M457.05 213.87L459.33 218.20L454.77 218.20Z" fill="#27a83f"/>
<text x="467.10" y="218.78" font-size="8.1" textLength="27.00" lengthAdjust="spacingAndGlyphs" fill="#333">Cmpd 6</text>
<path d="M452.00 228.27H462.10" stroke="#5a2a80" stroke-width="1.0" opacity="0.9"/>
<path d="M457.05 230.78L459.33 226.45L454.77 226.45Z" fill="#4a1769"/>
<text x="467.10" y="230.67" font-size="8.1" textLength="27.00" lengthAdjust="spacingAndGlyphs" fill="#333">Cmpd 8</text>
<path d="M452.00 240.16H462.10" stroke="#f7941d" stroke-width="1.0" opacity="0.9"/>
<path d="M457.05 237.69L459.52 240.16L457.05 242.63L454.58 240.16Z" fill="#f7941d"/>
<text x="467.10" y="242.56" font-size="8.1" textLength="35.40" lengthAdjust="spacingAndGlyphs" fill="#333">Ruxolitinib</text>
<path d="M452.00 252.05H462.10" stroke="#1a7a58" stroke-width="1.0" opacity="0.9"/>
<circle cx="457.05" cy="252.05" r="2.33" fill="#0b6b4a"/>
<text x="467.10" y="254.45" font-size="8.1" textLength="27.80" lengthAdjust="spacingAndGlyphs" fill="#333">CHZ868</text>
<path d="M452.00 263.94H462.10" stroke="#9a90d8" stroke-width="1.0" opacity="0.9"/>
<rect x="454.87" y="261.75" width="4.37" height="4.37" fill="#8b7fd0"/>
<text x="467.10" y="266.34" font-size="8.1" textLength="33.50" lengthAdjust="spacingAndGlyphs" fill="#333">Baricitinib</text>
<path d="M452.00 275.83H462.10" stroke="#3a5576" stroke-width="1.0" opacity="0.9"/>
<path d="M457.05 273.32L459.33 277.65L454.77 277.65Z" fill="#1e3a5c"/>
<text x="467.10" y="278.23" font-size="8.1" textLength="45.90" lengthAdjust="spacingAndGlyphs" fill="#333">Lenalidomide</text>
<path d="M318.43 211.27C321.25 211.37 329.78 211.46 335.36 211.86C340.95 212.25 346.43 212.67 351.96 213.62C357.50 214.57 363.03 216.21 368.56 217.55C374.10 218.89 379.55 220.43 385.16 221.66C390.78 222.90 399.41 224.40 402.26 224.95" stroke="#3a5576" stroke-width="1.05" fill="none"/>
<path d="M318.43 208.63L320.83 213.19L316.03 213.19Z" fill="#1e3a5c"/>
<path d="M335.36 209.22L337.76 213.78L332.96 213.78Z" fill="#1e3a5c"/>
<path d="M351.96 210.98L354.36 215.54L349.56 215.54Z" fill="#1e3a5c"/>
<path d="M368.56 214.91L370.96 219.47L366.16 219.47Z" fill="#1e3a5c"/>
<path d="M385.16 219.02L387.56 223.58L382.76 223.58Z" fill="#1e3a5c"/>
<path d="M402.26 222.31L404.66 226.87L399.86 226.87Z" fill="#1e3a5c"/>
<path d="M318.43 210.09L319.48 210.09L320.53 210.09L321.58 210.09L322.62 210.09L323.67 210.10L324.72 210.10L325.77 210.10L326.81 210.10L327.86 210.10L328.91 210.10L329.96 210.10L331.01 210.10L332.05 210.10L333.10 210.11L334.15 210.11L335.20 210.11L336.25 210.12L337.29 210.13L338.34 210.13L339.39 210.15L340.44 210.16L341.49 210.17L342.53 210.19L343.58 210.22L344.63 210.25L345.68 210.28L346.72 210.33L347.77 210.39L348.82 210.46L349.87 210.54L350.92 210.65L351.96 210.78L353.01 210.94L354.06 211.14L355.11 211.38L356.16 211.67L357.20 212.03L358.25 212.45L359.30 212.95L360.35 213.54L361.39 214.24L362.44 215.03L363.49 215.93L364.54 216.93L365.59 218.03L366.63 219.20L367.68 220.43L368.73 221.69L369.78 222.95L370.83 224.18L371.87 225.36L372.92 226.45L373.97 227.46L375.02 228.36L376.07 229.15L377.11 229.84L378.16 230.43L379.21 230.94L380.26 231.36L381.30 231.71L382.35 232.01L383.40 232.25L384.45 232.44L385.50 232.61L386.54 232.74L387.59 232.84L388.64 232.93L389.69 233.00L390.74 233.06L391.78 233.10L392.83 233.14L393.88 233.17L394.93 233.19L395.97 233.21L397.02 233.23L398.07 233.24L399.12 233.25L400.17 233.26L401.21 233.27L402.26 233.27" stroke="#9a90d8" stroke-width="1.05" fill="none"/>
<rect x="316.13" y="208.38" width="4.60" height="4.60" fill="#8b7fd0"/>
<rect x="333.06" y="208.09" width="4.60" height="4.60" fill="#8b7fd0"/>
<rect x="349.66" y="210.55" width="4.60" height="4.60" fill="#8b7fd0"/>
<path d="M368.56 219.02V223.72M367.06 219.02h3M367.06 223.72h3" stroke="#8b7fd0" stroke-width="0.8" fill="none"/>
<rect x="366.26" y="219.07" width="4.60" height="4.60" fill="#8b7fd0"/>
<rect x="382.86" y="230.46" width="4.60" height="4.60" fill="#8b7fd0"/>
<rect x="399.96" y="230.88" width="4.60" height="4.60" fill="#8b7fd0"/>
<path d="M317.77 216.46L318.82 216.51L319.88 216.58L320.94 216.65L321.99 216.72L323.05 216.81L324.11 216.91L325.16 217.01L326.22 217.13L327.27 217.26L328.33 217.41L329.39 217.57L330.44 217.75L331.50 217.95L332.55 218.17L333.61 218.41L334.67 218.68L335.72 218.97L336.78 219.29L337.84 219.65L338.89 220.04L339.95 220.47L341.00 220.93L342.06 221.44L343.12 221.99L344.17 222.59L345.23 223.24L346.28 223.94L347.34 224.68L348.40 225.49L349.45 226.34L350.51 227.25L351.57 228.21L352.62 229.22L353.68 230.28L354.73 231.38L355.79 232.53L356.85 233.70L357.90 234.91L358.96 236.14L360.01 237.39L361.07 238.65L362.13 239.91L363.18 241.16L364.24 242.39L365.30 243.61L366.35 244.80L367.41 245.96L368.46 247.08L369.52 248.15L370.58 249.18L371.63 250.16L372.69 251.08L373.75 251.96L374.80 252.78L375.86 253.55L376.91 254.26L377.97 254.93L379.03 255.54L380.08 256.11L381.14 256.64L382.19 257.12L383.25 257.56L384.31 257.96L385.36 258.33L386.42 258.66L387.48 258.97L388.53 259.24L389.59 259.49L390.64 259.72L391.70 259.93L392.76 260.11L393.81 260.28L394.87 260.43L395.92 260.57L396.98 260.69L398.04 260.80L399.09 260.90L400.15 260.99L401.21 261.07L402.26 261.14" stroke="#1a7a58" stroke-width="1.05" fill="none"/>
<circle cx="317.77" cy="217.14" r="2.45" fill="#0b6b4a"/>
<circle cx="334.87" cy="221.37" r="2.45" fill="#0b6b4a"/>
<circle cx="351.96" cy="228.48" r="2.45" fill="#0b6b4a"/>
<circle cx="368.56" cy="246.57" r="2.45" fill="#0b6b4a"/>
<circle cx="385.66" cy="257.37" r="2.45" fill="#0b6b4a"/>
<circle cx="402.26" cy="260.49" r="2.45" fill="#0b6b4a"/>
<path d="M318.43 211.86L319.48 211.86L320.53 211.86L321.58 211.86L322.62 211.87L323.67 211.87L324.72 211.87L325.77 211.87L326.81 211.88L327.86 211.88L328.91 211.89L329.96 211.89L331.01 211.90L332.05 211.91L333.10 211.92L334.15 211.94L335.20 211.96L336.25 211.98L337.29 212.00L338.34 212.03L339.39 212.07L340.44 212.11L341.49 212.17L342.53 212.23L343.58 212.31L344.63 212.40L345.68 212.51L346.72 212.64L347.77 212.79L348.82 212.98L349.87 213.20L350.92 213.46L351.96 213.77L353.01 214.12L354.06 214.54L355.11 215.03L356.16 215.58L357.20 216.21L358.25 216.92L359.30 217.71L360.35 218.58L361.39 219.53L362.44 220.53L363.49 221.59L364.54 222.68L365.59 223.79L366.63 224.89L367.68 225.98L368.73 227.02L369.78 228.00L370.83 228.92L371.87 229.77L372.92 230.53L373.97 231.21L375.02 231.82L376.07 232.35L377.11 232.81L378.16 233.21L379.21 233.55L380.26 233.84L381.30 234.08L382.35 234.29L383.40 234.47L384.45 234.61L385.50 234.74L386.54 234.84L387.59 234.93L388.64 235.00L389.69 235.06L390.74 235.11L391.78 235.15L392.83 235.18L393.88 235.21L394.93 235.23L395.97 235.25L397.02 235.27L398.07 235.28L399.12 235.29L400.17 235.30L401.21 235.31L402.26 235.32" stroke="#f7941d" stroke-width="1.05" fill="none"/>
<path d="M318.43 209.26L321.03 211.86L318.43 214.46L315.83 211.86Z" fill="#f7941d"/>
<path d="M335.36 210.25L337.96 212.85L335.36 215.45L332.76 212.85Z" fill="#f7941d"/>
<path d="M351.96 213.54L354.56 216.14L351.96 218.74L349.36 216.14Z" fill="#f7941d"/>
<path d="M368.56 224.53L371.16 227.13L368.56 229.73L365.96 227.13Z" fill="#f7941d"/>
<path d="M385.16 231.99L387.76 234.59L385.16 237.19L382.56 234.59Z" fill="#f7941d"/>
<path d="M402.26 232.16L404.86 234.76L402.26 237.36L399.66 234.76Z" fill="#f7941d"/>
<path d="M317.10 213.23L318.13 213.26L319.16 213.29L320.19 213.33L321.22 213.37L322.25 213.41L323.28 213.46L324.31 213.52L325.34 213.59L326.37 213.66L327.40 213.75L328.43 213.85L329.45 213.96L330.48 214.08L331.51 214.22L332.54 214.38L333.57 214.56L334.60 214.76L335.63 214.99L336.66 215.24L337.69 215.53L338.72 215.85L339.75 216.21L340.78 216.61L341.80 217.06L342.83 217.55L343.86 218.11L344.89 218.71L345.92 219.38L346.95 220.12L347.98 220.92L349.01 221.79L350.04 222.74L351.07 223.75L352.10 224.84L353.13 225.99L354.16 227.21L355.18 228.49L356.21 229.82L357.24 231.20L358.27 232.61L359.30 234.05L360.33 235.50L361.36 236.95L362.39 238.39L363.42 239.81L364.45 241.20L365.48 242.54L366.51 243.83L367.53 245.06L368.56 246.23L369.59 247.33L370.62 248.36L371.65 249.31L372.68 250.20L373.71 251.02L374.74 251.76L375.77 252.45L376.80 253.07L377.83 253.63L378.86 254.13L379.89 254.59L380.91 255.00L381.94 255.37L382.97 255.70L384.00 255.99L385.03 256.25L386.06 256.48L387.09 256.69L388.12 256.87L389.15 257.03L390.18 257.18L391.21 257.31L392.24 257.42L393.26 257.52L394.29 257.60L395.32 257.68L396.35 257.75L397.38 257.81L398.41 257.86L399.44 257.91" stroke="#5a2a80" stroke-width="1.05" fill="none"/>
<path d="M317.10 216.26L319.50 211.70L314.70 211.70Z" fill="#4a1769"/>
<path d="M333.70 218.61L336.10 214.05L331.30 214.05Z" fill="#4a1769"/>
<path d="M349.14 227.59L351.54 223.03L346.74 223.03Z" fill="#4a1769"/>
<path d="M365.74 244.45L368.14 239.89L363.34 239.89Z" fill="#4a1769"/>
<path d="M382.67 261.01L385.07 256.45L380.27 256.45Z" fill="#4a1769"/>
<path d="M399.44 260.01L401.84 255.45L397.04 255.45Z" fill="#4a1769"/>
<path d="M309.97 213.03L310.70 213.03L311.43 213.03L312.16 213.03L312.90 213.03L313.63 213.03L314.36 213.03L315.09 213.03L315.83 213.03L316.56 213.03L317.29 213.03L318.02 213.03L318.76 213.03L319.49 213.03L320.22 213.03L320.95 213.03L321.69 213.03L322.42 213.03L323.15 213.03L323.88 213.04L324.62 213.04L325.35 213.05L326.08 213.06L326.81 213.07L327.55 213.10L328.28 213.15L329.01 213.23L329.74 213.36L330.48 213.58L331.21 213.94L331.94 214.53L332.67 215.48L333.41 217.00L334.14 219.34L334.87 222.82L335.60 227.69L336.34 233.94L337.07 241.15L337.80 248.52L338.53 255.16L339.26 260.51L340.00 264.43L340.73 267.12L341.46 268.88L342.19 269.99L342.93 270.69L343.66 271.11L344.39 271.37L345.12 271.53L345.86 271.62L346.59 271.68L347.32 271.71L348.05 271.73L348.79 271.74L349.52 271.75L350.25 271.76L350.98 271.76L351.72 271.76L352.45 271.76L353.18 271.76L353.91 271.76L354.65 271.76L355.38 271.76L356.11 271.76L356.84 271.76L357.58 271.76L358.31 271.76L359.04 271.76L359.77 271.76L360.51 271.76L361.24 271.76L361.97 271.76L362.70 271.76L363.44 271.76L364.17 271.76L364.90 271.76L365.63 271.76L366.37 271.76L367.10 271.76L367.83 271.76L368.56 271.76" stroke="#38b54e" stroke-width="1.05" fill="none"/>
<path d="M309.97 209.80L312.37 214.36L307.57 214.36Z" fill="#27a83f"/>
<path d="M321.92 210.98L324.32 215.54L319.52 215.54Z" fill="#27a83f"/>
<path d="M334.87 220.96L337.27 225.52L332.47 225.52Z" fill="#27a83f"/>
<path d="M345.16 269.12L347.56 273.68L342.76 273.68Z" fill="#27a83f"/>
<path d="M356.94 269.12L359.34 273.68L354.54 273.68Z" fill="#27a83f"/>
<path d="M368.56 269.12L370.96 273.68L366.16 273.68Z" fill="#27a83f"/>
<path d="M309.97 212.44L310.70 212.44L311.43 212.44L312.16 212.44L312.90 212.44L313.63 212.44L314.36 212.44L315.09 212.44L315.83 212.44L316.56 212.44L317.29 212.44L318.02 212.44L318.76 212.44L319.49 212.44L320.22 212.44L320.95 212.44L321.69 212.44L322.42 212.44L323.15 212.44L323.88 212.44L324.62 212.44L325.35 212.44L326.08 212.45L326.81 212.45L327.55 212.45L328.28 212.47L329.01 212.51L329.74 212.58L330.48 212.76L331.21 213.15L331.94 214.01L332.67 215.87L333.41 219.65L334.14 226.56L334.87 237.01L335.60 249.01L336.34 259.13L337.07 265.67L337.80 269.19L338.53 270.91L339.26 271.70L340.00 272.06L340.73 272.22L341.46 272.29L342.19 272.33L342.93 272.34L343.66 272.35L344.39 272.35L345.12 272.35L345.86 272.35L346.59 272.35L347.32 272.35L348.05 272.35L348.79 272.35L349.52 272.35L350.25 272.35L350.98 272.35L351.72 272.35L352.45 272.35L353.18 272.35L353.91 272.35L354.65 272.35L355.38 272.35L356.11 272.35L356.84 272.35L357.58 272.35L358.31 272.35L359.04 272.35L359.77 272.35L360.51 272.35L361.24 272.35L361.97 272.35L362.70 272.35L363.44 272.35L364.17 272.35L364.90 272.35L365.63 272.35L366.37 272.35L367.10 272.35L367.83 272.35L368.56 272.35" stroke="#2f6fb0" stroke-width="1.05" fill="none"/>
<rect x="307.87" y="209.34" width="4.20" height="4.20" fill="#0d4d8c"/>
<rect x="319.82" y="210.93" width="4.20" height="4.20" fill="#0d4d8c"/>
<rect x="331.60" y="218.57" width="4.20" height="4.20" fill="#0d4d8c"/>
<rect x="343.06" y="270.25" width="4.20" height="4.20" fill="#0d4d8c"/>
<rect x="354.84" y="270.25" width="4.20" height="4.20" fill="#0d4d8c"/>
<rect x="366.46" y="270.25" width="4.20" height="4.20" fill="#0d4d8c"/>
<path d="M309.97 213.03L310.70 213.03L311.43 213.03L312.16 213.03L312.90 213.03L313.63 213.03L314.36 213.03L315.09 213.04L315.83 213.04L316.56 213.04L317.29 213.05L318.02 213.05L318.76 213.06L319.49 213.08L320.22 213.10L320.95 213.13L321.69 213.17L322.42 213.24L323.15 213.32L323.88 213.45L324.62 213.62L325.35 213.87L326.08 214.23L326.81 214.72L327.55 215.42L328.28 216.38L329.01 217.69L329.74 219.46L330.48 221.80L331.21 224.78L331.94 228.47L332.67 232.82L333.41 237.69L334.14 242.82L334.87 247.91L335.60 252.66L336.34 256.83L337.07 260.32L337.80 263.12L338.53 265.29L339.26 266.92L340.00 268.13L340.73 269.01L341.46 269.64L342.19 270.09L342.93 270.41L343.66 270.64L344.39 270.80L345.12 270.91L345.86 270.99L346.59 271.05L347.32 271.08L348.05 271.11L348.79 271.13L349.52 271.14L350.25 271.15L350.98 271.16L351.72 271.17L352.45 271.17L353.18 271.17L353.91 271.17L354.65 271.17L355.38 271.17L356.11 271.17L356.84 271.18L357.58 271.18L358.31 271.18L359.04 271.18L359.77 271.18L360.51 271.18L361.24 271.18L361.97 271.18L362.70 271.18L363.44 271.18L364.17 271.18L364.90 271.18L365.63 271.18L366.37 271.18L367.10 271.18L367.83 271.18L368.56 271.18" stroke="#d42a40" stroke-width="1.05" fill="none"/>
<circle cx="309.97" cy="212.44" r="2.30" fill="#c8102e"/>
<circle cx="321.92" cy="214.26" r="2.30" fill="#c8102e"/>
<circle cx="333.70" cy="242.81" r="2.30" fill="#c8102e"/>
<circle cx="345.16" cy="271.18" r="2.30" fill="#c8102e"/>
<path d="M356.94 266.77V271.47M355.44 266.77h3M355.44 271.47h3" stroke="#c8102e" stroke-width="0.8" fill="none"/>
<circle cx="356.94" cy="269.12" r="2.30" fill="#c8102e"/>
<circle cx="368.56" cy="271.18" r="2.30" fill="#c8102e"/>
<text x="7.70" y="320.80" font-size="11.6" fill="#000" font-weight="bold" stroke="#000" stroke-width="0.55">E</text>
<text x="51.20" y="326.10" font-size="9.6" textLength="112.20" lengthAdjust="spacingAndGlyphs" fill="#3a3a3a" letter-spacing="-0.3">SJBALL020589, ATF7IP-JAK2,</text>
<text x="47.20" y="334.10" font-size="9.6" textLength="121.40" lengthAdjust="spacingAndGlyphs" fill="#3a3a3a" letter-spacing="-0.3">PIK3CD-F146I, KMT2C-R3382W</text>
<path d="M39.50 339.50V427.50H172.94" fill="none" stroke="#1a1a1a" stroke-width="1.15"/>
<text x="36.30" y="429.90" font-size="8.4" text-anchor="end" textLength="4.15" lengthAdjust="spacingAndGlyphs" fill="#3a3a3a">0</text>
<text x="36.30" y="400.53" font-size="8.4" text-anchor="end" textLength="8.30" lengthAdjust="spacingAndGlyphs" fill="#3a3a3a">50</text>
<text x="36.30" y="371.17" font-size="8.4" text-anchor="end" textLength="12.45" lengthAdjust="spacingAndGlyphs" fill="#3a3a3a">100</text>
<text x="36.30" y="341.80" font-size="8.4" text-anchor="end" textLength="12.45" lengthAdjust="spacingAndGlyphs" fill="#3a3a3a">150</text>
<path d="M37.10 427.60H39.50M37.10 398.23H39.50M37.10 368.87H39.50M37.10 339.50H39.50M39.50 427.50v3.3M44.52 427.50v1.6M47.46 427.50v1.6M49.54 427.50v1.6M51.16 427.50v1.6M52.48 427.50v1.6M53.60 427.50v1.6M54.56 427.50v1.6M55.42 427.50v1.6M56.18 427.50v2.0M61.20 427.50v1.6M64.14 427.50v1.6M66.22 427.50v1.6M67.84 427.50v1.6M69.16 427.50v1.6M70.28 427.50v1.6M71.24 427.50v1.6M72.10 427.50v1.6M72.86 427.50v3.3M77.88 427.50v1.6M80.82 427.50v1.6M82.90 427.50v1.6M84.52 427.50v1.6M85.84 427.50v1.6M86.96 427.50v1.6M87.92 427.50v1.6M88.78 427.50v1.6M89.54 427.50v2.0M94.56 427.50v1.6M97.50 427.50v1.6M99.58 427.50v1.6M101.20 427.50v1.6M102.52 427.50v1.6M103.64 427.50v1.6M104.60 427.50v1.6M105.46 427.50v1.6M106.22 427.50v3.3M111.24 427.50v1.6M114.18 427.50v1.6M116.26 427.50v1.6M117.88 427.50v1.6M119.20 427.50v1.6M120.32 427.50v1.6M121.28 427.50v1.6M122.14 427.50v1.6M122.90 427.50v2.0M127.92 427.50v1.6M130.86 427.50v1.6M132.94 427.50v1.6M134.56 427.50v1.6M135.88 427.50v1.6M137.00 427.50v1.6M137.96 427.50v1.6M138.82 427.50v1.6M139.58 427.50v3.3M144.60 427.50v1.6M147.54 427.50v1.6M149.62 427.50v1.6M151.24 427.50v1.6M152.56 427.50v1.6M153.68 427.50v1.6M154.64 427.50v1.6M155.50 427.50v1.6M156.26 427.50v2.0M161.28 427.50v1.6M164.22 427.50v1.6M166.30 427.50v1.6M167.92 427.50v1.6M169.24 427.50v1.6M170.36 427.50v1.6M171.32 427.50v1.6M172.18 427.50v1.6M172.94 427.50v3.3" stroke="#1a1a1a" stroke-width="0.8" fill="none"/>
<text x="39.50" y="439.10" font-size="8.0" text-anchor="middle" textLength="15.01" lengthAdjust="spacingAndGlyphs" fill="#3a3a3a">0.01</text>
<text x="72.86" y="439.10" font-size="8.0" text-anchor="middle" textLength="4.37" lengthAdjust="spacingAndGlyphs" fill="#3a3a3a">1</text>
<text x="106.22" y="439.10" font-size="8.0" text-anchor="middle" textLength="13.11" lengthAdjust="spacingAndGlyphs" fill="#3a3a3a">100</text>
<text x="139.58" y="439.10" font-size="8.0" text-anchor="middle" textLength="21.85" lengthAdjust="spacingAndGlyphs" fill="#3a3a3a">10000</text>
<text x="172.94" y="439.10" font-size="8.0" text-anchor="middle" textLength="30.59" lengthAdjust="spacingAndGlyphs" fill="#3a3a3a">1000000</text>
<text x="75.10" y="450.00" font-size="10.0" textLength="63.30" lengthAdjust="spacingAndGlyphs" fill="#333">concentration (nM)</text>
<text x="21.90" y="384.50" font-size="9.6" text-anchor="middle" textLength="84.40" lengthAdjust="spacingAndGlyphs" fill="#333" transform="rotate(-90 21.90 384.50)">Relative to Vehicle control</text>
<path d="M41.00 398.23H171.44" stroke="#222" stroke-width="1.2" stroke-dasharray="1 1" fill="none"/>
<path d="M193.00 345.60H202.60" stroke="#d42a40" stroke-width="1.0" opacity="0.9"/>
<circle cx="197.80" cy="345.60" r="2.18" fill="#c8102e"/>
<text x="207.60" y="348.00" font-size="8.1" textLength="27.00" lengthAdjust="spacingAndGlyphs" fill="#333">Cmpd 7</text>
<path d="M193.00 357.47H202.60" stroke="#2f6fb0" stroke-width="1.0" opacity="0.9"/>
<rect x="195.81" y="355.48" width="3.99" height="3.99" fill="#0d4d8c"/>
<text x="207.60" y="359.87" font-size="8.1" textLength="27.00" lengthAdjust="spacingAndGlyphs" fill="#333">Cmpd 5</text>
<path d="M193.00 369.34H202.60" stroke="#38b54e" stroke-width="1.0" opacity="0.9"/>
<path d="M197.80 366.83L200.08 371.16L195.52 371.16Z" fill="#27a83f"/>
<text x="207.60" y="371.74" font-size="8.1" textLength="27.00" lengthAdjust="spacingAndGlyphs" fill="#333">Cmpd 6</text>
<path d="M193.00 381.21H202.60" stroke="#5a2a80" stroke-width="1.0" opacity="0.9"/>
<path d="M197.80 383.72L200.08 379.39L195.52 379.39Z" fill="#4a1769"/>
<text x="207.60" y="383.61" font-size="8.1" textLength="27.00" lengthAdjust="spacingAndGlyphs" fill="#333">Cmpd 8</text>
<path d="M193.00 393.08H202.60" stroke="#f7941d" stroke-width="1.0" opacity="0.9"/>
<path d="M197.80 390.61L200.27 393.08L197.80 395.55L195.33 393.08Z" fill="#f7941d"/>
<text x="207.60" y="395.48" font-size="8.1" textLength="35.40" lengthAdjust="spacingAndGlyphs" fill="#333">Ruxolitinib</text>
<path d="M193.00 404.95H202.60" stroke="#1a7a58" stroke-width="1.0" opacity="0.9"/>
<circle cx="197.80" cy="404.95" r="2.33" fill="#0b6b4a"/>
<text x="207.60" y="407.35" font-size="8.1" textLength="27.80" lengthAdjust="spacingAndGlyphs" fill="#333">CHZ868</text>
<path d="M193.00 416.82H202.60" stroke="#9a90d8" stroke-width="1.0" opacity="0.9"/>
<rect x="195.62" y="414.64" width="4.37" height="4.37" fill="#8b7fd0"/>
<text x="207.60" y="419.22" font-size="8.1" textLength="33.50" lengthAdjust="spacingAndGlyphs" fill="#333">Baricitinib</text>
<path d="M193.00 428.69H202.60" stroke="#3a5576" stroke-width="1.0" opacity="0.9"/>
<path d="M197.80 426.18L200.08 430.51L195.52 430.51Z" fill="#1e3a5c"/>
<text x="207.60" y="431.09" font-size="8.1" textLength="45.90" lengthAdjust="spacingAndGlyphs" fill="#333">Lenalidomide</text>
<path d="M56.25 373.63L57.30 373.64L58.34 373.65L59.39 373.67L60.44 373.68L61.48 373.70L62.53 373.72L63.58 373.74L64.62 373.76L65.67 373.79L66.72 373.82L67.77 373.85L68.81 373.89L69.86 373.93L70.91 373.98L71.95 374.04L73.00 374.11L74.05 374.18L75.09 374.26L76.14 374.36L77.19 374.46L78.23 374.58L79.28 374.72L80.33 374.87L81.38 375.05L82.42 375.24L83.47 375.46L84.52 375.71L85.56 375.98L86.61 376.29L87.66 376.63L88.70 377.02L89.75 377.44L90.80 377.91L91.84 378.43L92.89 378.99L93.94 379.61L94.98 380.29L96.03 381.01L97.08 381.80L98.12 382.64L99.17 383.53L100.22 384.48L101.27 385.47L102.31 386.50L103.36 387.57L104.41 388.66L105.45 389.77L106.50 390.89L107.55 392.01L108.59 393.12L109.64 394.22L110.69 395.28L111.73 396.31L112.78 397.30L113.83 398.25L114.88 399.14L115.92 399.98L116.97 400.77L118.02 401.50L119.06 402.17L120.11 402.79L121.16 403.36L122.20 403.87L123.25 404.34L124.30 404.77L125.34 405.15L126.39 405.49L127.44 405.80L128.48 406.08L129.53 406.32L130.58 406.54L131.62 406.74L132.67 406.91L133.72 407.06L134.77 407.20L135.81 407.32L136.86 407.43L137.91 407.52L138.95 407.60L140.00 407.68" stroke="#3a5576" stroke-width="1.05" fill="none"/>
<path d="M56.25 370.93L58.65 375.49L53.85 375.49Z" fill="#1e3a5c"/>
<path d="M73.17 371.51L75.57 376.07L70.77 376.07Z" fill="#1e3a5c"/>
<path d="M89.75 375.33L92.15 379.89L87.35 379.89Z" fill="#1e3a5c"/>
<path d="M107.00 387.96L109.40 392.52L104.60 392.52Z" fill="#1e3a5c"/>
<path d="M123.25 401.06L125.65 405.62L120.85 405.62Z" fill="#1e3a5c"/>
<path d="M140.00 404.23L142.40 408.79L137.60 408.79Z" fill="#1e3a5c"/>
<path d="M56.25 372.97L57.30 373.11L58.35 373.26L59.40 373.43L60.45 373.62L61.51 373.84L62.56 374.07L63.61 374.34L64.66 374.63L65.71 374.95L66.76 375.30L67.81 375.69L68.86 376.12L69.91 376.59L70.96 377.11L72.02 377.67L73.07 378.28L74.12 378.94L75.17 379.66L76.22 380.43L77.27 381.26L78.32 382.14L79.37 383.08L80.42 384.07L81.48 385.11L82.53 386.20L83.58 387.34L84.63 388.51L85.68 389.71L86.73 390.94L87.78 392.19L88.83 393.44L89.88 394.69L90.94 395.94L91.99 397.17L93.04 398.38L94.09 399.56L95.14 400.70L96.19 401.79L97.24 402.85L98.29 403.84L99.34 404.79L100.39 405.68L101.45 406.52L102.50 407.30L103.55 408.02L104.60 408.69L105.65 409.31L106.70 409.88L107.75 410.40L108.80 410.88L109.85 411.32L110.91 411.71L111.96 412.07L113.01 412.40L114.06 412.69L115.11 412.96L116.16 413.20L117.21 413.41L118.26 413.61L119.31 413.78L120.36 413.94L121.42 414.08L122.47 414.21L123.52 414.32L124.57 414.42L125.62 414.51L126.67 414.59L127.72 414.67L128.77 414.73L129.82 414.79L130.88 414.84L131.93 414.89L132.98 414.93L134.03 414.96L135.08 415.00L136.13 415.03L137.18 415.05L138.23 415.08L139.28 415.10L140.33 415.11" stroke="#9a90d8" stroke-width="1.05" fill="none"/>
<rect x="53.95" y="370.85" width="4.60" height="4.60" fill="#8b7fd0"/>
<rect x="71.70" y="378.55" width="4.60" height="4.60" fill="#8b7fd0"/>
<rect x="87.45" y="391.18" width="4.60" height="4.60" fill="#8b7fd0"/>
<rect x="104.53" y="407.80" width="4.60" height="4.60" fill="#8b7fd0"/>
<rect x="120.95" y="412.50" width="4.60" height="4.60" fill="#8b7fd0"/>
<rect x="138.03" y="411.67" width="4.60" height="4.60" fill="#8b7fd0"/>
<path d="M56.25 369.46L57.30 369.47L58.34 369.47L59.39 369.47L60.44 369.47L61.48 369.48L62.53 369.48L63.58 369.49L64.62 369.49L65.67 369.50L66.72 369.50L67.77 369.51L68.81 369.52L69.86 369.53L70.91 369.55L71.95 369.56L73.00 369.58L74.05 369.61L75.09 369.63L76.14 369.66L77.19 369.70L78.23 369.74L79.28 369.79L80.33 369.84L81.38 369.91L82.42 369.99L83.47 370.08L84.52 370.18L85.56 370.30L86.61 370.44L87.66 370.61L88.70 370.80L89.75 371.02L90.80 371.28L91.84 371.57L92.89 371.92L93.94 372.31L94.98 372.75L96.03 373.26L97.08 373.84L98.12 374.50L99.17 375.24L100.22 376.06L101.27 376.97L102.31 377.98L103.36 379.08L104.41 380.27L105.45 381.54L106.50 382.90L107.55 384.32L108.59 385.79L109.64 387.31L110.69 388.84L111.73 390.37L112.78 391.88L113.83 393.35L114.88 394.78L115.92 396.13L116.97 397.41L118.02 398.60L119.06 399.69L120.11 400.70L121.16 401.61L122.20 402.44L123.25 403.17L124.30 403.83L125.34 404.41L126.39 404.92L127.44 405.37L128.48 405.76L129.53 406.10L130.58 406.39L131.62 406.65L132.67 406.87L133.72 407.06L134.77 407.23L135.81 407.37L136.86 407.49L137.91 407.60L138.95 407.69L140.00 407.76" stroke="#1a7a58" stroke-width="1.05" fill="none"/>
<circle cx="56.25" cy="370.28" r="2.45" fill="#0b6b4a"/>
<circle cx="73.17" cy="372.16" r="2.45" fill="#0b6b4a"/>
<circle cx="89.92" cy="373.15" r="2.45" fill="#0b6b4a"/>
<circle cx="107.00" cy="383.49" r="2.45" fill="#0b6b4a"/>
<circle cx="123.25" cy="402.29" r="2.45" fill="#0b6b4a"/>
<circle cx="140.00" cy="406.57" r="2.45" fill="#0b6b4a"/>
<path d="M56.25 368.87C59.10 368.83 67.72 368.65 73.34 368.63C78.95 368.61 84.31 368.17 89.92 368.75C95.53 369.33 101.45 370.82 107.00 372.10C112.56 373.37 117.69 375.34 123.25 376.38C128.81 377.43 137.49 378.05 140.33 378.38" stroke="#f7941d" stroke-width="1.05" fill="none"/>
<path d="M56.25 366.27L58.85 368.87L56.25 371.47L53.65 368.87Z" fill="#f7941d"/>
<path d="M73.34 366.03L75.94 368.63L73.34 371.23L70.74 368.63Z" fill="#f7941d"/>
<path d="M89.92 366.15L92.52 368.75L89.92 371.35L87.32 368.75Z" fill="#f7941d"/>
<path d="M107.00 369.50L109.60 372.10L107.00 374.70L104.40 372.10Z" fill="#f7941d"/>
<path d="M123.25 373.78L125.85 376.38L123.25 378.98L120.65 376.38Z" fill="#f7941d"/>
<path d="M140.33 375.78L142.93 378.38L140.33 380.98L137.73 378.38Z" fill="#f7941d"/>
<path d="M53.40 366.55L54.45 366.56L55.50 366.57L56.55 366.59L57.60 366.61L58.65 366.63L59.70 366.67L60.75 366.71L61.79 366.77L62.84 366.84L63.89 366.94L64.94 367.06L65.99 367.22L67.04 367.42L68.09 367.68L69.14 368.02L70.19 368.45L71.23 369.00L72.28 369.70L73.33 370.57L74.38 371.67L75.43 373.03L76.48 374.70L77.53 376.70L78.58 379.08L79.63 381.85L80.68 384.98L81.72 388.43L82.77 392.12L83.82 395.94L84.87 399.77L85.92 403.48L86.97 406.97L88.02 410.14L89.07 412.95L90.12 415.38L91.17 417.43L92.21 419.13L93.26 420.53L94.31 421.66L95.36 422.56L96.41 423.28L97.46 423.84L98.51 424.29L99.56 424.63L100.61 424.91L101.66 425.12L102.70 425.28L103.75 425.41L104.80 425.50L105.85 425.58L106.90 425.64L107.95 425.68L109.00 425.72L110.05 425.75L111.10 425.77L112.14 425.78L113.19 425.80L114.24 425.81L115.29 425.81L116.34 425.82L117.39 425.82L118.44 425.83L119.49 425.83L120.54 425.83L121.59 425.83L122.63 425.83L123.68 425.83L124.73 425.84L125.78 425.84L126.83 425.84L127.88 425.84L128.93 425.84L129.98 425.84L131.03 425.84L132.08 425.84L133.12 425.84L134.17 425.84L135.22 425.84L136.27 425.84L137.32 425.84" stroke="#5a2a80" stroke-width="1.05" fill="none"/>
<path d="M53.40 363.58V368.28M51.90 363.58h3M51.90 368.28h3" stroke="#4a1769" stroke-width="0.8" fill="none"/>
<path d="M53.40 368.57L55.80 364.01L51.00 364.01Z" fill="#4a1769"/>
<path d="M69.82 369.51L72.22 364.95L67.42 364.95Z" fill="#4a1769"/>
<path d="M86.73 402.76V407.45M85.23 402.76h3M85.23 407.45h3" stroke="#4a1769" stroke-width="0.8" fill="none"/>
<path d="M86.73 407.75L89.14 403.19L84.33 403.19Z" fill="#4a1769"/>
<path d="M103.82 427.71L106.22 423.15L101.42 423.15Z" fill="#4a1769"/>
<path d="M120.57 428.83L122.97 424.27L118.17 424.27Z" fill="#4a1769"/>
<path d="M137.32 429.12L139.72 424.56L134.92 424.56Z" fill="#4a1769"/>
<path d="M48.38 367.10L49.11 367.10L49.84 367.10L50.58 367.10L51.31 367.10L52.04 367.10L52.77 367.10L53.51 367.10L54.24 367.10L54.97 367.10L55.71 367.10L56.44 367.10L57.17 367.10L57.90 367.10L58.64 367.10L59.37 367.10L60.10 367.10L60.84 367.11L61.57 367.11L62.30 367.11L63.03 367.11L63.77 367.11L64.50 367.11L65.23 367.12L65.97 367.14L66.70 367.17L67.43 367.22L68.16 367.31L68.90 367.49L69.63 367.80L70.36 368.36L71.09 369.36L71.83 371.11L72.56 374.05L73.29 378.69L74.03 385.35L74.76 393.70L75.49 402.58L76.22 410.49L76.96 416.51L77.69 420.56L78.42 423.07L79.16 424.55L79.89 425.38L80.62 425.85L81.35 426.11L82.09 426.25L82.82 426.33L83.55 426.37L84.29 426.40L85.02 426.41L85.75 426.42L86.48 426.42L87.22 426.42L87.95 426.42L88.68 426.42L89.42 426.42L90.15 426.43L90.88 426.43L91.61 426.43L92.35 426.43L93.08 426.43L93.81 426.43L94.54 426.43L95.28 426.43L96.01 426.43L96.74 426.43L97.48 426.43L98.21 426.43L98.94 426.43L99.67 426.43L100.41 426.43L101.14 426.43L101.87 426.43L102.61 426.43L103.34 426.43L104.07 426.43L104.80 426.43L105.54 426.43L106.27 426.43L107.00 426.43" stroke="#38b54e" stroke-width="1.05" fill="none"/>
<path d="M48.38 362.99V367.69M46.88 362.99h3M46.88 367.69h3" stroke="#27a83f" stroke-width="0.8" fill="none"/>
<path d="M48.38 362.70L50.78 367.26L45.98 367.26Z" fill="#27a83f"/>
<path d="M60.10 363.88L62.50 368.44L57.70 368.44Z" fill="#27a83f"/>
<path d="M71.83 372.45L74.23 377.01L69.43 377.01Z" fill="#27a83f"/>
<path d="M83.22 423.55L85.62 428.11L80.82 428.11Z" fill="#27a83f"/>
<path d="M95.11 423.55L97.51 428.11L92.71 428.11Z" fill="#27a83f"/>
<path d="M106.83 423.55L109.23 428.11L104.43 428.11Z" fill="#27a83f"/>
<path d="M48.38 366.52L49.11 366.52L49.84 366.52L50.58 366.52L51.31 366.52L52.04 366.52L52.77 366.52L53.51 366.52L54.24 366.52L54.97 366.52L55.71 366.52L56.44 366.52L57.17 366.52L57.90 366.52L58.64 366.52L59.37 366.52L60.10 366.52L60.84 366.52L61.57 366.52L62.30 366.52L63.03 366.52L63.77 366.52L64.50 366.52L65.23 366.53L65.97 366.55L66.70 366.59L67.43 366.67L68.16 366.87L68.90 367.30L69.63 368.23L70.36 370.23L71.09 374.24L71.83 381.42L72.56 392.02L73.29 403.90L74.03 413.72L74.76 420.00L75.49 423.37L76.22 425.02L76.96 425.79L77.69 426.14L78.42 426.30L79.16 426.37L79.89 426.40L80.62 426.41L81.35 426.42L82.09 426.42L82.82 426.42L83.55 426.42L84.29 426.43L85.02 426.43L85.75 426.43L86.48 426.43L87.22 426.43L87.95 426.43L88.68 426.43L89.42 426.43L90.15 426.43L90.88 426.43L91.61 426.43L92.35 426.43L93.08 426.43L93.81 426.43L94.54 426.43L95.28 426.43L96.01 426.43L96.74 426.43L97.48 426.43L98.21 426.43L98.94 426.43L99.67 426.43L100.41 426.43L101.14 426.43L101.87 426.43L102.61 426.43L103.34 426.43L104.07 426.43L104.80 426.43L105.54 426.43L106.27 426.43L107.00 426.43" stroke="#2f6fb0" stroke-width="1.05" fill="none"/>
<path d="M48.38 363.82V370.86M46.88 363.82h3M46.88 370.86h3" stroke="#0d4d8c" stroke-width="0.8" fill="none"/>
<rect x="46.28" y="365.24" width="4.20" height="4.20" fill="#0d4d8c"/>
<rect x="58.00" y="364.59" width="4.20" height="4.20" fill="#0d4d8c"/>
<path d="M71.83 377.68V388.25M70.33 377.68h3M70.33 388.25h3" stroke="#0d4d8c" stroke-width="0.8" fill="none"/>
<rect x="69.73" y="380.86" width="4.20" height="4.20" fill="#0d4d8c"/>
<rect x="81.12" y="424.09" width="4.20" height="4.20" fill="#0d4d8c"/>
<rect x="93.01" y="424.09" width="4.20" height="4.20" fill="#0d4d8c"/>
<rect x="104.73" y="424.09" width="4.20" height="4.20" fill="#0d4d8c"/>
<path d="M48.38 374.32L49.11 374.34L49.84 374.37L50.58 374.40L51.31 374.43L52.04 374.47L52.77 374.51L53.51 374.56L54.24 374.62L54.97 374.68L55.71 374.76L56.44 374.84L57.17 374.94L57.90 375.04L58.64 375.16L59.37 375.30L60.10 375.46L60.84 375.63L61.57 375.83L62.30 376.06L63.03 376.31L63.77 376.60L64.50 376.92L65.23 377.28L65.97 377.68L66.70 378.13L67.43 378.63L68.16 379.19L68.90 379.81L69.63 380.49L70.36 381.23L71.09 382.05L71.83 382.93L72.56 383.89L73.29 384.93L74.03 386.04L74.76 387.21L75.49 388.45L76.22 389.75L76.96 391.11L77.69 392.51L78.42 393.94L79.16 395.39L79.89 396.85L80.62 398.30L81.35 399.75L82.09 401.16L82.82 402.54L83.55 403.86L84.29 405.14L85.02 406.34L85.75 407.49L86.48 408.55L87.22 409.55L87.95 410.47L88.68 411.32L89.42 412.10L90.15 412.81L90.88 413.46L91.61 414.04L92.35 414.57L93.08 415.05L93.81 415.47L94.54 415.85L95.28 416.19L96.01 416.49L96.74 416.76L97.48 417.00L98.21 417.21L98.94 417.40L99.67 417.57L100.41 417.71L101.14 417.84L101.87 417.96L102.61 418.06L103.34 418.15L104.07 418.22L104.80 418.29L105.54 418.35L106.27 418.41L107.00 418.45" stroke="#d42a40" stroke-width="1.05" fill="none"/>
<circle cx="48.38" cy="373.15" r="2.30" fill="#c8102e"/>
<circle cx="59.77" cy="377.97" r="2.30" fill="#c8102e"/>
<circle cx="71.83" cy="382.38" r="2.30" fill="#c8102e"/>
<circle cx="83.22" cy="402.99" r="2.30" fill="#c8102e"/>
<circle cx="95.11" cy="419.08" r="2.30" fill="#c8102e"/>
<circle cx="106.83" cy="417.20" r="2.30" fill="#c8102e"/>
<text x="268.00" y="319.80" font-size="11.6" fill="#000" font-weight="bold" stroke="#000" stroke-width="0.55">F</text>
<text x="310.50" y="325.80" font-size="9.6" textLength="113.70" lengthAdjust="spacingAndGlyphs" fill="#3a3a3a" letter-spacing="-0.3">SJBALL003145, P2RY8-CRLF2</text>
<text x="316.00" y="333.90" font-size="9.6" textLength="102.40" lengthAdjust="spacingAndGlyphs" fill="#3a3a3a" letter-spacing="-0.3">PAX5-ZNF521, KRAS-G12C</text>
<path d="M299.50 339.50V427.50H432.94" fill="none" stroke="#1a1a1a" stroke-width="1.15"/>
<text x="296.30" y="429.30" font-size="8.4" text-anchor="end" textLength="4.15" lengthAdjust="spacingAndGlyphs" fill="#3a3a3a">0</text>
<text x="296.30" y="400.13" font-size="8.4" text-anchor="end" textLength="8.30" lengthAdjust="spacingAndGlyphs" fill="#3a3a3a">50</text>
<text x="296.30" y="370.97" font-size="8.4" text-anchor="end" textLength="12.45" lengthAdjust="spacingAndGlyphs" fill="#3a3a3a">100</text>
<text x="296.30" y="341.80" font-size="8.4" text-anchor="end" textLength="12.45" lengthAdjust="spacingAndGlyphs" fill="#3a3a3a">150</text>
<path d="M297.10 427.00H299.50M297.10 397.83H299.50M297.10 368.67H299.50M297.10 339.50H299.50M299.50 427.50v3.3M304.52 427.50v1.6M307.46 427.50v1.6M309.54 427.50v1.6M311.16 427.50v1.6M312.48 427.50v1.6M313.60 427.50v1.6M314.56 427.50v1.6M315.42 427.50v1.6M316.18 427.50v2.0M321.20 427.50v1.6M324.14 427.50v1.6M326.22 427.50v1.6M327.84 427.50v1.6M329.16 427.50v1.6M330.28 427.50v1.6M331.24 427.50v1.6M332.10 427.50v1.6M332.86 427.50v3.3M337.88 427.50v1.6M340.82 427.50v1.6M342.90 427.50v1.6M344.52 427.50v1.6M345.84 427.50v1.6M346.96 427.50v1.6M347.92 427.50v1.6M348.78 427.50v1.6M349.54 427.50v2.0M354.56 427.50v1.6M357.50 427.50v1.6M359.58 427.50v1.6M361.20 427.50v1.6M362.52 427.50v1.6M363.64 427.50v1.6M364.60 427.50v1.6M365.46 427.50v1.6M366.22 427.50v3.3M371.24 427.50v1.6M374.18 427.50v1.6M376.26 427.50v1.6M377.88 427.50v1.6M379.20 427.50v1.6M380.32 427.50v1.6M381.28 427.50v1.6M382.14 427.50v1.6M382.90 427.50v2.0M387.92 427.50v1.6M390.86 427.50v1.6M392.94 427.50v1.6M394.56 427.50v1.6M395.88 427.50v1.6M397.00 427.50v1.6M397.96 427.50v1.6M398.82 427.50v1.6M399.58 427.50v3.3M404.60 427.50v1.6M407.54 427.50v1.6M409.62 427.50v1.6M411.24 427.50v1.6M412.56 427.50v1.6M413.68 427.50v1.6M414.64 427.50v1.6M415.50 427.50v1.6M416.26 427.50v2.0M421.28 427.50v1.6M424.22 427.50v1.6M426.30 427.50v1.6M427.92 427.50v1.6M429.24 427.50v1.6M430.36 427.50v1.6M431.32 427.50v1.6M432.18 427.50v1.6M432.94 427.50v3.3" stroke="#1a1a1a" stroke-width="0.8" fill="none"/>
<text x="299.50" y="438.50" font-size="8.0" text-anchor="middle" textLength="15.01" lengthAdjust="spacingAndGlyphs" fill="#3a3a3a">0.01</text>
<text x="332.86" y="438.50" font-size="8.0" text-anchor="middle" textLength="4.37" lengthAdjust="spacingAndGlyphs" fill="#3a3a3a">1</text>
<text x="366.22" y="438.50" font-size="8.0" text-anchor="middle" textLength="13.11" lengthAdjust="spacingAndGlyphs" fill="#3a3a3a">100</text>
<text x="399.58" y="438.50" font-size="8.0" text-anchor="middle" textLength="21.85" lengthAdjust="spacingAndGlyphs" fill="#3a3a3a">10000</text>
<text x="432.94" y="438.50" font-size="8.0" text-anchor="middle" textLength="30.59" lengthAdjust="spacingAndGlyphs" fill="#3a3a3a">1000000</text>
<text x="335.00" y="450.00" font-size="10.0" textLength="63.30" lengthAdjust="spacingAndGlyphs" fill="#333">concentration (nM)</text>
<text x="281.40" y="383.90" font-size="9.6" text-anchor="middle" textLength="85.00" lengthAdjust="spacingAndGlyphs" fill="#333" transform="rotate(-90 281.40 383.90)">Relative to Vehicle control</text>
<path d="M301.00 397.83H431.44" stroke="#222" stroke-width="1.2" stroke-dasharray="1 1" fill="none"/>
<path d="M453.00 345.10H462.60" stroke="#d42a40" stroke-width="1.0" opacity="0.9"/>
<circle cx="457.80" cy="345.10" r="2.18" fill="#c8102e"/>
<text x="467.60" y="347.50" font-size="8.1" textLength="27.00" lengthAdjust="spacingAndGlyphs" fill="#333">Cmpd 7</text>
<path d="M453.00 356.97H462.60" stroke="#2f6fb0" stroke-width="1.0" opacity="0.9"/>
<rect x="455.81" y="354.98" width="3.99" height="3.99" fill="#0d4d8c"/>
<text x="467.60" y="359.37" font-size="8.1" textLength="27.00" lengthAdjust="spacingAndGlyphs" fill="#333">Cmpd 5</text>
<path d="M453.00 368.84H462.60" stroke="#38b54e" stroke-width="1.0" opacity="0.9"/>
<path d="M457.80 366.33L460.08 370.66L455.52 370.66Z" fill="#27a83f"/>
<text x="467.60" y="371.24" font-size="8.1" textLength="27.00" lengthAdjust="spacingAndGlyphs" fill="#333">Cmpd 6</text>
<path d="M453.00 380.71H462.60" stroke="#5a2a80" stroke-width="1.0" opacity="0.9"/>
<path d="M457.80 383.22L460.08 378.89L455.52 378.89Z" fill="#4a1769"/>
<text x="467.60" y="383.11" font-size="8.1" textLength="27.00" lengthAdjust="spacingAndGlyphs" fill="#333">Cmpd 8</text>
<path d="M453.00 392.58H462.60" stroke="#f7941d" stroke-width="1.0" opacity="0.9"/>
<path d="M457.80 390.11L460.27 392.58L457.80 395.05L455.33 392.58Z" fill="#f7941d"/>
<text x="467.60" y="394.98" font-size="8.1" textLength="35.40" lengthAdjust="spacingAndGlyphs" fill="#333">Ruxolitinib</text>
<path d="M453.00 404.45H462.60" stroke="#1a7a58" stroke-width="1.0" opacity="0.9"/>
<circle cx="457.80" cy="404.45" r="2.33" fill="#0b6b4a"/>
<text x="467.60" y="406.85" font-size="8.1" textLength="27.80" lengthAdjust="spacingAndGlyphs" fill="#333">CHZ868</text>
<path d="M453.00 416.32H462.60" stroke="#9a90d8" stroke-width="1.0" opacity="0.9"/>
<rect x="455.62" y="414.14" width="4.37" height="4.37" fill="#8b7fd0"/>
<text x="467.60" y="418.72" font-size="8.1" textLength="33.50" lengthAdjust="spacingAndGlyphs" fill="#333">Baricitinib</text>
<path d="M453.00 428.19H462.60" stroke="#3a5576" stroke-width="1.0" opacity="0.9"/>
<path d="M457.80 425.68L460.08 430.01L455.52 430.01Z" fill="#1e3a5c"/>
<text x="467.60" y="430.59" font-size="8.1" textLength="45.90" lengthAdjust="spacingAndGlyphs" fill="#333">Lenalidomide</text>
<path d="M315.17 364.58C320.56 364.53 339.32 364.44 347.52 364.29C355.72 364.15 358.92 364.52 364.37 363.71C369.82 362.90 374.85 361.12 380.21 359.45C385.58 357.78 393.83 354.64 396.56 353.68" stroke="#3a5576" stroke-width="1.05" fill="none"/>
<path d="M315.17 361.94L317.57 366.50L312.77 366.50Z" fill="#1e3a5c"/>
<path d="M332.02 361.94L334.42 366.50L329.62 366.50Z" fill="#1e3a5c"/>
<path d="M347.52 361.65L349.92 366.21L345.12 366.21Z" fill="#1e3a5c"/>
<path d="M364.37 352.51V374.67M362.87 352.51h3M362.87 374.67h3" stroke="#1e3a5c" stroke-width="0.8" fill="none"/>
<path d="M364.37 360.95L366.77 365.51L361.97 365.51Z" fill="#1e3a5c"/>
<path d="M396.56 349.88V357.47M395.06 349.88h3M395.06 357.47h3" stroke="#1e3a5c" stroke-width="0.8" fill="none"/>
<path d="M396.56 351.04L398.96 355.60L394.16 355.60Z" fill="#1e3a5c"/>
<path d="M315.51 376.25L316.52 376.25L317.53 376.25L318.55 376.25L319.56 376.25L320.57 376.25L321.59 376.25L322.60 376.25L323.61 376.25L324.63 376.25L325.64 376.25L326.65 376.25L327.66 376.25L328.68 376.26L329.69 376.26L330.70 376.26L331.72 376.27L332.73 376.28L333.74 376.29L334.76 376.32L335.77 376.35L336.78 376.40L337.80 376.47L338.81 376.59L339.82 376.76L340.84 377.02L341.85 377.40L342.86 377.97L343.87 378.79L344.89 379.95L345.90 381.56L346.91 383.70L347.93 386.41L348.94 389.61L349.95 393.12L350.97 396.65L351.98 399.93L352.99 402.74L354.01 404.99L355.02 406.70L356.03 407.94L357.04 408.82L358.06 409.42L359.07 409.83L360.08 410.11L361.10 410.30L362.11 410.42L363.12 410.51L364.14 410.56L365.15 410.60L366.16 410.62L367.18 410.64L368.19 410.65L369.20 410.65L370.22 410.66L371.23 410.66L372.24 410.66L373.25 410.66L374.27 410.66L375.28 410.67L376.29 410.67L377.31 410.67L378.32 410.67L379.33 410.67L380.35 410.67L381.36 410.67L382.37 410.67L383.39 410.67L384.40 410.67L385.41 410.67L386.42 410.67L387.44 410.67L388.45 410.67L389.46 410.67L390.48 410.67L391.49 410.67L392.50 410.67L393.52 410.67L394.53 410.67L395.54 410.67L396.56 410.67" stroke="#9a90d8" stroke-width="1.05" fill="none"/>
<rect x="313.21" y="373.60" width="4.60" height="4.60" fill="#8b7fd0"/>
<rect x="329.72" y="377.27" width="4.60" height="4.60" fill="#8b7fd0"/>
<rect x="345.22" y="386.72" width="4.60" height="4.60" fill="#8b7fd0"/>
<rect x="361.57" y="417.82" width="4.60" height="4.60" fill="#8b7fd0"/>
<rect x="377.91" y="419.04" width="4.60" height="4.60" fill="#8b7fd0"/>
<rect x="394.26" y="388.71" width="4.60" height="4.60" fill="#8b7fd0"/>
<path d="M315.17 364.00C320.56 364.05 339.32 364.34 347.52 364.29C355.72 364.24 361.56 363.81 364.37 363.71" stroke="#1a7a58" stroke-width="1.05" fill="none"/>
<circle cx="315.17" cy="364.00" r="2.45" fill="#0b6b4a"/>
<circle cx="332.02" cy="364.00" r="2.45" fill="#0b6b4a"/>
<circle cx="347.52" cy="365.75" r="2.45" fill="#0b6b4a"/>
<circle cx="364.37" cy="363.12" r="2.45" fill="#0b6b4a"/>
<circle cx="380.21" cy="359.45" r="2.45" fill="#0b6b4a"/>
<path d="M396.56 360.56V374.56M395.06 360.56h3M395.06 374.56h3" stroke="#0b6b4a" stroke-width="0.8" fill="none"/>
<circle cx="396.56" cy="367.56" r="2.45" fill="#0b6b4a"/>
<path d="M315.17 366.04L347.52 365.75L364.37 366.04L367.74 368.96L396.56 368.96" stroke="#f7941d" stroke-width="1.05" fill="none"/>
<path d="M315.17 363.15L317.77 365.75L315.17 368.35L312.57 365.75Z" fill="#f7941d"/>
<path d="M332.02 364.49L334.62 367.09L332.02 369.69L329.42 367.09Z" fill="#f7941d"/>
<path d="M347.52 360.67V366.51M346.02 360.67h3M346.02 366.51h3" stroke="#f7941d" stroke-width="0.8" fill="none"/>
<path d="M347.52 360.99L350.12 363.59L347.52 366.19L344.92 363.59Z" fill="#f7941d"/>
<path d="M364.37 359.86V371.52M362.87 359.86h3M362.87 371.52h3" stroke="#f7941d" stroke-width="0.8" fill="none"/>
<path d="M364.37 363.09L366.97 365.69L364.37 368.29L361.77 365.69Z" fill="#f7941d"/>
<path d="M380.21 368.90V380.57M378.71 368.90h3M378.71 380.57h3" stroke="#f7941d" stroke-width="0.8" fill="none"/>
<path d="M380.21 372.13L382.81 374.73L380.21 377.33L377.61 374.73Z" fill="#f7941d"/>
<path d="M396.56 364.64V370.48M395.06 364.64h3M395.06 370.48h3" stroke="#f7941d" stroke-width="0.8" fill="none"/>
<path d="M396.56 364.96L399.16 367.56L396.56 370.16L393.96 367.56Z" fill="#f7941d"/>
<path d="M312.98 365.75L313.98 365.75L314.99 365.75L315.99 365.76L317.00 365.76L318.00 365.76L319.01 365.76L320.01 365.77L321.02 365.78L322.02 365.78L323.03 365.79L324.03 365.81L325.04 365.83L326.04 365.85L327.05 365.88L328.05 365.92L329.05 365.98L330.06 366.05L331.06 366.15L332.07 366.27L333.07 366.43L334.08 366.65L335.08 366.92L336.09 367.28L337.09 367.75L338.10 368.36L339.10 369.13L340.11 370.12L341.11 371.36L342.12 372.91L343.12 374.81L344.13 377.10L345.13 379.80L346.13 382.90L347.14 386.36L348.14 390.08L349.15 393.96L350.15 397.84L351.16 401.59L352.16 405.09L353.17 408.23L354.17 410.98L355.18 413.32L356.18 415.26L357.19 416.85L358.19 418.13L359.20 419.14L360.20 419.94L361.20 420.56L362.21 421.04L363.21 421.41L364.22 421.70L365.22 421.92L366.23 422.09L367.23 422.22L368.24 422.31L369.24 422.39L370.25 422.44L371.25 422.49L372.26 422.52L373.26 422.55L374.27 422.56L375.27 422.58L376.27 422.59L377.28 422.60L378.28 422.60L379.29 422.61L380.29 422.61L381.30 422.62L382.30 422.62L383.31 422.62L384.31 422.62L385.32 422.62L386.32 422.62L387.33 422.62L388.33 422.62L389.34 422.62L390.34 422.62L391.35 422.62L392.35 422.62L393.35 422.62" stroke="#5a2a80" stroke-width="1.05" fill="none"/>
<path d="M312.98 368.39L315.38 363.83L310.58 363.83Z" fill="#4a1769"/>
<path d="M329.83 368.97L332.23 364.41L327.43 364.41Z" fill="#4a1769"/>
<path d="M345.00 378.23V382.90M343.50 378.23h3M343.50 382.90h3" stroke="#4a1769" stroke-width="0.8" fill="none"/>
<path d="M345.00 383.21L347.39 378.65L342.60 378.65Z" fill="#4a1769"/>
<path d="M361.51 422.41L363.91 417.85L359.11 417.85Z" fill="#4a1769"/>
<path d="M377.35 425.26L379.75 420.70L374.95 420.70Z" fill="#4a1769"/>
<path d="M393.35 425.26L395.75 420.70L390.95 420.70Z" fill="#4a1769"/>
<path d="M307.76 362.83L308.46 362.83L309.17 362.83L309.87 362.83L310.58 362.83L311.28 362.83L311.99 362.83L312.70 362.83L313.40 362.83L314.11 362.83L314.81 362.83L315.52 362.83L316.22 362.83L316.93 362.83L317.63 362.83L318.34 362.83L319.05 362.83L319.75 362.83L320.46 362.83L321.16 362.83L321.87 362.83L322.57 362.83L323.28 362.83L323.99 362.83L324.69 362.83L325.40 362.83L326.10 362.83L326.81 362.83L327.51 362.83L328.22 362.83L328.92 362.83L329.63 362.83L330.34 362.83L331.04 362.83L331.75 362.83L332.45 362.83L333.16 362.83L333.86 362.83L334.57 362.83L335.27 362.83L335.98 362.84L336.69 362.87L337.39 363.06L338.10 364.36L338.80 371.99L339.51 396.21L340.21 417.06L340.92 422.47L341.62 423.35L342.33 423.48L343.04 423.50L343.74 423.50L344.45 423.50L345.15 423.50L345.86 423.50L346.56 423.50L347.27 423.50L347.98 423.50L348.68 423.50L349.39 423.50L350.09 423.50L350.80 423.50L351.50 423.50L352.21 423.50L352.91 423.50L353.62 423.50L354.33 423.50L355.03 423.50L355.74 423.50L356.44 423.50L357.15 423.50L357.85 423.50L358.56 423.50L359.26 423.50L359.97 423.50L360.68 423.50L361.38 423.50L362.09 423.50L362.79 423.50L363.50 423.50L364.20 423.50" stroke="#38b54e" stroke-width="1.05" fill="none"/>
<path d="M306.91 367.60L309.31 372.16L304.51 372.16Z" fill="#27a83f"/>
<path d="M319.21 360.19L321.61 364.75L316.81 364.75Z" fill="#27a83f"/>
<path d="M330.50 355.37V357.70M329.00 355.37h3M329.00 357.70h3" stroke="#27a83f" stroke-width="0.8" fill="none"/>
<path d="M330.50 353.89L332.90 358.45L328.10 358.45Z" fill="#27a83f"/>
<path d="M341.96 420.86L344.36 425.42L339.56 425.42Z" fill="#27a83f"/>
<path d="M352.91 420.80L355.31 425.36L350.51 425.36Z" fill="#27a83f"/>
<path d="M364.20 420.86L366.60 425.42L361.80 425.42Z" fill="#27a83f"/>
<path d="M307.76 363.42L308.46 363.42L309.17 363.42L309.87 363.42L310.58 363.42L311.28 363.42L311.99 363.42L312.70 363.42L313.40 363.42L314.11 363.42L314.81 363.42L315.52 363.42L316.22 363.42L316.93 363.42L317.63 363.42L318.34 363.42L319.05 363.42L319.75 363.42L320.46 363.42L321.16 363.42L321.87 363.42L322.57 363.42L323.28 363.42L323.99 363.42L324.69 363.42L325.40 363.42L326.10 363.42L326.81 363.42L327.51 363.42L328.22 363.42L328.92 363.42L329.63 363.42L330.34 363.42L331.04 363.42L331.75 363.42L332.45 363.42L333.16 363.42L333.86 363.42L334.57 363.42L335.27 363.42L335.98 363.42L336.69 363.42L337.39 363.45L338.10 363.66L338.80 365.04L339.51 373.03L340.21 397.25L340.92 416.80L341.62 421.70L342.33 422.49L343.04 422.61L343.74 422.62L344.45 422.62L345.15 422.62L345.86 422.62L346.56 422.62L347.27 422.62L347.98 422.62L348.68 422.62L349.39 422.62L350.09 422.62L350.80 422.62L351.50 422.62L352.21 422.62L352.91 422.62L353.62 422.62L354.33 422.62L355.03 422.62L355.74 422.62L356.44 422.62L357.15 422.62L357.85 422.62L358.56 422.62L359.26 422.62L359.97 422.62L360.68 422.62L361.38 422.62L362.09 422.62L362.79 422.62L363.50 422.62L364.20 422.62" stroke="#2f6fb0" stroke-width="1.05" fill="none"/>
<rect x="305.66" y="362.89" width="4.20" height="4.20" fill="#0d4d8c"/>
<path d="M319.21 357.00V361.67M317.71 357.00h3M317.71 361.67h3" stroke="#0d4d8c" stroke-width="0.8" fill="none"/>
<rect x="317.11" y="357.23" width="4.20" height="4.20" fill="#0d4d8c"/>
<path d="M330.50 357.70V362.37M329.00 357.70h3M329.00 362.37h3" stroke="#0d4d8c" stroke-width="0.8" fill="none"/>
<rect x="328.40" y="357.93" width="4.20" height="4.20" fill="#0d4d8c"/>
<rect x="339.86" y="419.42" width="4.20" height="4.20" fill="#0d4d8c"/>
<rect x="350.81" y="420.12" width="4.20" height="4.20" fill="#0d4d8c"/>
<rect x="361.77" y="420.82" width="4.20" height="4.20" fill="#0d4d8c"/>
<path d="M307.76 365.22L308.46 365.22L309.17 365.23L309.87 365.24L310.58 365.26L311.28 365.27L311.99 365.29L312.70 365.30L313.40 365.33L314.11 365.35L314.81 365.38L315.52 365.41L316.22 365.45L316.93 365.49L317.63 365.54L318.34 365.60L319.05 365.67L319.75 365.74L320.46 365.83L321.16 365.93L321.87 366.05L322.57 366.18L323.28 366.34L323.99 366.51L324.69 366.71L325.40 366.94L326.10 367.20L326.81 367.50L327.51 367.84L328.22 368.22L328.92 368.65L329.63 369.13L330.34 369.67L331.04 370.27L331.75 370.94L332.45 371.68L333.16 372.49L333.86 373.38L334.57 374.34L335.27 375.37L335.98 376.47L336.69 377.63L337.39 378.85L338.10 380.11L338.80 381.41L339.51 382.73L340.21 384.06L340.92 385.38L341.62 386.68L342.33 387.96L343.04 389.18L343.74 390.36L344.45 391.47L345.15 392.52L345.86 393.50L346.56 394.40L347.27 395.23L347.98 395.98L348.68 396.67L349.39 397.28L350.09 397.84L350.80 398.33L351.50 398.78L352.21 399.17L352.91 399.51L353.62 399.82L354.33 400.09L355.03 400.32L355.74 400.53L356.44 400.71L357.15 400.87L357.85 401.01L358.56 401.13L359.26 401.23L359.97 401.32L360.68 401.40L361.38 401.47L362.09 401.53L362.79 401.58L363.50 401.63L364.20 401.66" stroke="#d42a40" stroke-width="1.05" fill="none"/>
<path d="M307.76 360.85V364.35M306.26 360.85h3M306.26 364.35h3" stroke="#c8102e" stroke-width="0.8" fill="none"/>
<circle cx="307.76" cy="362.60" r="2.30" fill="#c8102e"/>
<circle cx="319.21" cy="366.39" r="2.30" fill="#c8102e"/>
<circle cx="330.50" cy="371.06" r="2.30" fill="#c8102e"/>
<path d="M341.96 385.29V389.96M340.46 385.29h3M340.46 389.96h3" stroke="#c8102e" stroke-width="0.8" fill="none"/>
<circle cx="341.96" cy="387.62" r="2.30" fill="#c8102e"/>
<path d="M352.91 401.51V406.17M351.41 401.51h3M351.41 406.17h3" stroke="#c8102e" stroke-width="0.8" fill="none"/>
<circle cx="352.91" cy="403.84" r="2.30" fill="#c8102e"/>
<circle cx="364.20" cy="400.34" r="2.30" fill="#c8102e"/>
<text x="8.60" y="472.00" font-size="11.6" fill="#000" font-weight="bold" stroke="#000" stroke-width="0.55">G</text>
<text x="57.20" y="478.20" font-size="8.2" textLength="115.00" lengthAdjust="spacingAndGlyphs" fill="#333">SJBALL003145, Bone marrow cells</text>
<text x="42.50" y="493.70" font-size="7.6" textLength="49.50" lengthAdjust="spacingAndGlyphs" fill="#333">P-STAT5(Y694)</text>
<text x="126.40" y="493.20" font-size="7.6" textLength="75.00" lengthAdjust="spacingAndGlyphs" fill="#333">P-JAK2(Y1007/Y1008)</text>
<rect x="17.30" y="495.4" width="95.30" height="82.50" fill="none" stroke="#9a9a9a" stroke-width="0.8"/>
<path d="M17.30 514.60H112.60" stroke="#e2e2e2" stroke-width="0.9"/>
<path d="M17.30 524.00H112.60" stroke="#cfe3f5" stroke-width="0.9"/>
<path d="M17.30 533.00H112.60" stroke="#f7d9bd" stroke-width="0.9"/>
<path d="M17.30 542.00H112.60" stroke="#cfcfee" stroke-width="0.9"/>
<path d="M17.30 551.00H112.60" stroke="#f7d9bd" stroke-width="0.9"/>
<path d="M17.30 560.10H112.60" stroke="#cfcfee" stroke-width="0.9"/>
<path d="M17.30 569.30H112.60" stroke="#f7d9bd" stroke-width="0.9"/>
<path d="M36.02 514.60L36.02 514.30L36.24 514.18L36.47 514.10L36.69 513.93L36.92 513.76L37.14 513.73L37.36 513.56L37.59 512.97L37.81 512.95L38.04 512.64L38.26 511.70L38.48 511.66L38.71 510.78L38.93 510.61L39.16 509.77L39.38 509.86L39.60 508.35L39.83 507.09L40.05 506.99L40.28 505.60L40.50 504.89L40.72 505.82L40.95 502.79L41.17 502.47L41.40 502.73L41.62 503.09L41.84 498.95L42.07 499.97L42.29 498.29L42.52 497.04L42.74 497.44L42.96 496.17L43.19 498.63L43.41 496.67L43.64 498.83L43.86 497.38L44.08 498.89L44.31 503.41L44.53 504.62L44.76 505.81L44.98 505.45L45.20 508.18L45.43 509.21L45.65 510.82L45.88 511.56L46.10 512.44L46.32 513.07L46.55 513.45L46.77 513.82L47.00 514.03L47.22 514.25L47.22 514.60Z" fill="#b2b2b2" fill-opacity="0.9" stroke="#8a8a8a" stroke-width="0.75" stroke-linejoin="round"/>
<path d="M36.68 524.00L36.68 523.65L37.00 523.55L37.32 523.42L37.64 523.28L37.96 523.14L38.28 522.85L38.60 522.56L38.91 522.24L39.23 521.93L39.55 521.46L39.87 521.11L40.19 520.36L40.51 519.83L40.83 519.28L41.15 518.67L41.47 517.40L41.79 516.41L42.11 516.20L42.43 514.66L42.74 514.07L43.06 513.40L43.38 512.33L43.70 510.83L44.02 509.81L44.34 510.19L44.66 508.66L44.98 508.97L45.30 507.43L45.62 507.72L45.94 506.61L46.26 506.40L46.58 507.41L46.89 507.15L47.21 509.04L47.53 510.40L47.85 510.89L48.17 512.91L48.49 514.08L48.81 515.26L49.13 516.45L49.45 518.01L49.77 519.18L50.09 519.82L50.41 520.90L50.72 521.46L51.04 522.10L51.36 522.66L51.68 523.02L52.00 523.30L52.32 523.51L52.64 523.66L52.64 524.00Z" fill="#a6d2f0" fill-opacity="0.9" stroke="#4a9ad8" stroke-width="0.75" stroke-linejoin="round"/>
<path d="M55.80 533.00L55.80 532.65L56.15 532.54L56.51 532.38L56.86 532.23L57.21 532.03L57.56 531.73L57.92 531.49L58.27 531.11L58.62 530.52L58.98 530.11L59.33 529.51L59.68 529.06L60.03 528.16L60.39 527.25L60.74 526.72L61.09 525.36L61.44 524.34L61.80 523.83L62.15 522.22L62.50 521.34L62.86 520.05L63.21 519.50L63.56 518.10L63.91 517.23L64.27 517.68L64.62 517.10L64.97 515.68L65.33 514.95L65.68 516.14L66.03 515.98L66.38 516.21L66.74 517.36L67.09 518.19L67.44 519.33L67.80 520.44L68.15 521.46L68.50 523.09L68.85 524.30L69.21 525.25L69.56 526.93L69.91 527.68L70.26 528.58L70.62 529.59L70.97 530.33L71.32 530.79L71.68 531.40L72.03 531.80L72.38 532.09L72.73 532.31L73.09 532.53L73.44 532.66L73.44 533.00Z" fill="#f3b985" fill-opacity="0.8" stroke="#e6882c" stroke-width="0.75" stroke-linejoin="round"/>
<path d="M36.40 542.00L36.40 541.66L36.74 541.54L37.08 541.42L37.42 541.23L37.77 541.08L38.11 540.82L38.45 540.49L38.79 540.09L39.13 539.76L39.47 539.34L39.82 538.85L40.16 538.09L40.50 537.55L40.84 536.48L41.18 535.60L41.52 535.14L41.87 534.14L42.21 532.70L42.55 531.82L42.89 530.60L43.23 530.11L43.57 529.43L43.92 528.31L44.26 526.74L44.60 526.78L44.94 526.03L45.28 525.42L45.62 525.07L45.96 524.90L46.31 523.99L46.65 525.54L46.99 526.30L47.33 525.56L47.67 526.70L48.01 527.78L48.36 529.81L48.70 530.60L49.04 532.06L49.38 534.04L49.72 534.92L50.06 536.07L50.41 537.25L50.75 538.24L51.09 539.11L51.43 539.75L51.77 540.31L52.11 540.75L52.46 541.03L52.80 541.32L53.14 541.49L53.48 541.67L53.48 542.00Z" fill="#938bd6" fill-opacity="0.75" stroke="#3a46be" stroke-width="0.75" stroke-linejoin="round"/>
<path d="M36.50 551.00L36.50 550.66L36.88 550.57L37.26 550.43L37.64 550.27L38.02 550.08L38.40 549.88L38.78 549.69L39.17 549.26L39.55 549.00L39.93 548.55L40.31 547.96L40.69 547.44L41.07 546.86L41.45 545.92L41.83 545.31L42.21 544.66L42.59 543.88L42.97 542.49L43.35 541.88L43.74 540.62L44.12 540.12L44.50 539.39L44.88 538.09L45.26 536.87L45.64 537.03L46.02 535.45L46.40 534.69L46.78 534.44L47.16 534.12L47.54 535.32L47.92 534.34L48.30 534.30L48.69 536.19L49.07 536.69L49.45 537.73L49.83 538.61L50.21 540.04L50.59 541.34L50.97 542.43L51.35 544.30L51.73 545.41L52.11 546.41L52.49 547.33L52.87 548.14L53.26 548.59L53.64 549.19L54.02 549.76L54.40 550.06L54.78 550.34L55.16 550.53L55.54 550.68L55.54 551.00Z" fill="#f3b985" fill-opacity="0.7" stroke="#e6882c" stroke-width="0.75" stroke-linejoin="round"/>
<path d="M36.40 560.10L36.40 559.76L36.74 559.65L37.08 559.53L37.42 559.38L37.77 559.18L38.11 558.96L38.45 558.62L38.79 558.24L39.13 557.90L39.47 557.51L39.82 556.96L40.16 556.30L40.50 555.51L40.84 554.66L41.18 554.05L41.52 552.88L41.87 552.06L42.21 551.24L42.55 550.30L42.89 549.17L43.23 547.92L43.57 547.30L43.92 546.01L44.26 545.50L44.60 545.09L44.94 544.02L45.28 543.26L45.62 543.95L45.96 543.17L46.31 543.14L46.65 542.61L46.99 543.06L47.33 544.74L47.67 544.96L48.01 546.31L48.36 548.26L48.70 549.36L49.04 551.03L49.38 551.76L49.72 553.16L50.06 554.21L50.41 555.34L50.75 556.33L51.09 557.11L51.43 557.82L51.77 558.45L52.11 558.80L52.46 559.20L52.80 559.44L53.14 559.60L53.48 559.78L53.48 560.10Z" fill="#938bd6" fill-opacity="0.75" stroke="#3a46be" stroke-width="0.75" stroke-linejoin="round"/>
<path d="M36.12 569.30L36.12 568.98L36.46 568.88L36.80 568.72L37.14 568.61L37.49 568.44L37.83 568.13L38.17 567.95L38.51 567.51L38.85 567.16L39.19 566.67L39.54 566.12L39.88 565.66L40.22 564.92L40.56 564.57L40.90 563.42L41.24 562.74L41.59 561.71L41.93 561.27L42.27 559.76L42.61 558.57L42.95 558.54L43.29 557.31L43.64 556.10L43.98 554.88L44.32 554.94L44.66 554.37L45.00 553.71L45.34 552.68L45.68 552.15L46.03 552.60L46.37 552.66L46.71 552.92L47.05 553.59L47.39 554.34L47.73 555.88L48.08 556.55L48.42 557.36L48.76 559.38L49.10 560.47L49.44 562.26L49.78 563.14L50.13 564.25L50.47 565.29L50.81 566.21L51.15 566.92L51.49 567.48L51.83 567.91L52.18 568.36L52.52 568.63L52.86 568.80L53.20 568.95L53.20 569.30Z" fill="#f3b985" fill-opacity="0.75" stroke="#e6882c" stroke-width="0.75" stroke-linejoin="round"/>
<path d="M69.02 577.90L69.02 577.56L69.41 577.45L69.79 577.29L70.18 577.14L70.57 576.90L70.95 576.63L71.34 576.22L71.72 575.85L72.11 575.39L72.50 574.68L72.88 573.90L73.27 573.41L73.66 572.37L74.04 571.62L74.43 570.31L74.82 569.45L75.20 568.66L75.59 567.63L75.98 566.79L76.36 565.20L76.75 564.33L77.13 563.73L77.52 562.67L77.91 562.09L78.29 560.87L78.68 561.62L79.07 560.07L79.45 561.03L79.84 561.16L80.23 561.91L80.61 562.08L81.00 563.03L81.38 564.45L81.77 565.67L82.16 566.59L82.54 567.69L82.93 569.32L83.32 570.21L83.70 571.18L84.09 572.50L84.48 573.51L84.86 574.30L85.25 574.84L85.64 575.47L86.02 575.93L86.41 576.38L86.79 576.81L87.18 577.08L87.57 577.28L87.95 577.45L88.34 577.56L88.34 577.90Z" fill="#ef8e94" fill-opacity="0.9" stroke="#dd3a48" stroke-width="0.75" stroke-linejoin="round"/>
<path d="M17.30 577.9H112.60" stroke="#333" stroke-width="0.9"/>
<path d="M18.90 577.9v1.2M20.80 577.9v1.2M22.35 577.9v1.2M23.66 577.9v1.2M24.80 577.9v1.2M25.80 577.9v1.2M26.70 577.9v2.2M32.60 577.9v1.2M36.05 577.9v1.2M38.50 577.9v1.2M40.40 577.9v1.2M41.95 577.9v1.2M43.26 577.9v1.2M44.40 577.9v1.2M45.40 577.9v1.2M46.30 577.9v2.2M52.20 577.9v1.2M55.65 577.9v1.2M58.10 577.9v1.2M60.00 577.9v1.2M61.55 577.9v1.2M62.86 577.9v1.2M64.00 577.9v1.2M65.00 577.9v1.2M65.90 577.9v2.2M71.80 577.9v1.2M75.25 577.9v1.2M77.70 577.9v1.2M79.60 577.9v1.2M81.15 577.9v1.2M82.46 577.9v1.2M83.60 577.9v1.2M84.60 577.9v1.2M85.50 577.9v2.2M91.40 577.9v1.2M94.85 577.9v1.2M97.30 577.9v1.2M99.20 577.9v1.2M100.75 577.9v1.2M102.06 577.9v1.2M103.20 577.9v1.2M104.20 577.9v1.2M105.10 577.9v2.2M111.00 577.9v1.2" stroke="#333" stroke-width="0.7"/>
<text x="21.40" y="589.6" font-size="7.3" fill="#3a3a3a">10<tspan font-size="4.6" dy="-3">1</tspan></text>
<text x="41.00" y="589.6" font-size="7.3" fill="#3a3a3a">10<tspan font-size="4.6" dy="-3">2</tspan></text>
<text x="60.60" y="589.6" font-size="7.3" fill="#3a3a3a">10<tspan font-size="4.6" dy="-3">3</tspan></text>
<text x="80.20" y="589.6" font-size="7.3" fill="#3a3a3a">10<tspan font-size="4.6" dy="-3">4</tspan></text>
<text x="99.80" y="589.6" font-size="7.3" fill="#3a3a3a">10<tspan font-size="4.6" dy="-3">5</tspan></text>
<rect x="115.30" y="495.4" width="96.00" height="82.50" fill="none" stroke="#9a9a9a" stroke-width="0.8"/>
<path d="M115.30 514.60H211.30" stroke="#e2e2e2" stroke-width="0.9"/>
<path d="M115.30 524.00H211.30" stroke="#cfe3f5" stroke-width="0.9"/>
<path d="M115.30 533.00H211.30" stroke="#f7d9bd" stroke-width="0.9"/>
<path d="M115.30 542.00H211.30" stroke="#cfcfee" stroke-width="0.9"/>
<path d="M115.30 551.00H211.30" stroke="#f7d9bd" stroke-width="0.9"/>
<path d="M115.30 560.10H211.30" stroke="#cfcfee" stroke-width="0.9"/>
<path d="M115.30 569.30H211.30" stroke="#f7d9bd" stroke-width="0.9"/>
<path d="M144.92 514.60L144.92 514.23L145.10 514.09L145.28 514.04L145.46 513.70L145.64 513.60L145.82 513.26L146.00 512.73L146.17 512.67L146.35 512.19L146.53 510.89L146.71 510.76L146.89 509.90L147.07 508.64L147.25 507.43L147.43 507.90L147.61 506.07L147.79 504.69L147.97 503.40L148.15 503.32L148.32 500.85L148.50 498.28L148.68 499.90L148.86 498.51L149.04 500.09L149.22 499.03L149.40 496.97L149.58 499.85L149.76 496.31L149.94 496.77L150.12 501.24L150.30 498.34L150.48 501.70L150.65 501.24L150.83 502.49L151.01 505.11L151.19 505.15L151.37 506.37L151.55 507.17L151.73 509.19L151.91 509.31L152.09 509.94L152.27 511.05L152.45 511.83L152.63 512.65L152.80 512.86L152.98 513.29L153.16 513.47L153.34 513.75L153.52 513.98L153.70 514.19L153.88 514.25L153.88 514.60Z" fill="#b2b2b2" fill-opacity="0.9" stroke="#8a8a8a" stroke-width="0.75" stroke-linejoin="round"/>
<path d="M143.90 524.00L143.90 523.66L144.12 523.58L144.33 523.42L144.55 523.27L144.76 523.13L144.98 522.81L145.19 522.64L145.41 522.29L145.62 521.83L145.84 521.40L146.06 520.90L146.27 520.29L146.49 519.71L146.70 519.07L146.92 518.39L147.13 517.65L147.35 516.31L147.57 515.32L147.78 514.53L148.00 513.35L148.21 512.79L148.43 511.97L148.64 510.93L148.86 509.41L149.07 509.85L149.29 508.51L149.51 508.39L149.72 507.13L149.94 507.56L150.15 507.48L150.37 507.45L150.58 507.61L150.80 507.91L151.01 509.46L151.23 509.87L151.45 512.08L151.66 513.19L151.88 514.69L152.09 515.98L152.31 516.75L152.52 518.02L152.74 519.38L152.96 520.30L153.17 521.03L153.39 521.63L153.60 522.19L153.82 522.66L154.03 523.04L154.25 523.34L154.46 523.52L154.68 523.68L154.68 524.00Z" fill="#a6d2f0" fill-opacity="0.9" stroke="#4a9ad8" stroke-width="0.75" stroke-linejoin="round"/>
<path d="M151.34 533.00L151.34 532.66L151.68 532.51L152.01 532.35L152.35 532.11L152.68 531.74L153.02 531.46L153.36 530.83L153.69 530.20L154.03 529.45L154.36 528.83L154.70 527.81L155.04 526.74L155.37 525.53L155.71 523.99L156.04 522.93L156.38 522.03L156.72 520.08L157.05 519.33L157.39 518.06L157.72 516.91L158.06 517.34L158.40 515.54L158.73 515.45L159.07 515.74L159.40 515.86L159.74 516.32L160.08 517.26L160.41 517.38L160.75 518.90L161.08 519.10L161.42 519.89L161.76 521.17L162.09 522.09L162.43 522.78L162.76 523.94L163.10 525.58L163.44 526.08L163.77 527.11L164.11 528.24L164.44 528.84L164.78 529.56L165.12 530.19L165.45 530.58L165.79 530.96L166.12 531.45L166.46 531.70L166.80 531.99L167.13 532.26L167.47 532.38L167.80 532.54L168.14 532.64L168.14 533.00Z" fill="#f3b985" fill-opacity="0.8" stroke="#e6882c" stroke-width="0.75" stroke-linejoin="round"/>
<path d="M143.92 542.00L143.92 541.66L144.14 541.54L144.35 541.43L144.57 541.22L144.78 540.98L145.00 540.72L145.21 540.45L145.43 540.01L145.64 539.62L145.86 539.21L146.08 538.65L146.29 537.99L146.51 537.21L146.72 536.42L146.94 535.32L147.15 534.21L147.37 533.32L147.59 532.38L147.80 531.10L148.02 530.45L148.23 529.26L148.45 527.91L148.66 527.55L148.88 527.14L149.09 525.39L149.31 525.19L149.53 525.47L149.74 525.32L149.96 525.12L150.17 525.32L150.39 526.47L150.60 527.55L150.82 528.15L151.03 528.45L151.25 530.44L151.47 531.30L151.68 532.81L151.90 534.00L152.11 535.18L152.33 536.11L152.54 537.22L152.76 538.15L152.98 538.87L153.19 539.50L153.41 539.98L153.62 540.51L153.84 540.88L154.05 541.12L154.27 541.36L154.48 541.52L154.70 541.68L154.70 542.00Z" fill="#938bd6" fill-opacity="0.75" stroke="#3a46be" stroke-width="0.75" stroke-linejoin="round"/>
<path d="M143.80 551.00L143.80 550.68L144.07 550.56L144.35 550.44L144.62 550.18L144.90 550.01L145.17 549.74L145.45 549.34L145.72 548.98L146.00 548.37L146.27 547.85L146.54 547.27L146.82 546.57L147.09 545.38L147.37 544.72L147.64 543.36L147.92 542.55L148.19 541.02L148.46 540.55L148.74 539.55L149.01 538.52L149.29 536.83L149.56 536.21L149.84 535.92L150.11 535.76L150.39 534.43L150.66 533.75L150.93 534.37L151.21 535.54L151.48 535.90L151.76 536.39L152.03 537.01L152.31 538.08L152.58 539.03L152.86 539.39L153.13 540.29L153.40 542.12L153.68 542.58L153.95 544.05L154.23 544.87L154.50 545.77L154.78 546.63L155.05 547.72L155.32 548.26L155.60 548.74L155.87 549.15L156.15 549.68L156.42 549.96L156.70 550.17L156.97 550.42L157.25 550.56L157.52 550.68L157.52 551.00Z" fill="#f3b985" fill-opacity="0.7" stroke="#e6882c" stroke-width="0.75" stroke-linejoin="round"/>
<path d="M143.92 560.10L143.92 559.75L144.14 559.63L144.35 559.53L144.57 559.32L144.78 559.09L145.00 558.81L145.21 558.52L145.43 558.06L145.64 557.72L145.86 557.18L146.08 556.65L146.29 555.75L146.51 555.11L146.72 554.39L146.94 553.57L147.15 552.20L147.37 551.25L147.59 550.09L147.80 549.35L148.02 548.19L148.23 547.61L148.45 545.91L148.66 546.04L148.88 544.62L149.09 543.52L149.31 543.16L149.53 543.83L149.74 543.46L149.96 542.48L150.17 543.14L150.39 543.33L150.60 544.14L150.82 545.74L151.03 546.24L151.25 547.69L151.47 549.41L151.68 550.63L151.90 552.12L152.11 553.03L152.33 553.80L152.54 555.30L152.76 555.98L152.98 556.93L153.19 557.59L153.41 558.02L153.62 558.57L153.84 558.96L154.05 559.24L154.27 559.43L154.48 559.62L154.70 559.78L154.70 560.10Z" fill="#938bd6" fill-opacity="0.75" stroke="#3a46be" stroke-width="0.75" stroke-linejoin="round"/>
<path d="M143.90 569.30L143.90 568.97L144.15 568.81L144.41 568.69L144.66 568.46L144.92 568.21L145.17 567.83L145.43 567.45L145.68 566.93L145.94 566.41L146.19 565.87L146.45 565.13L146.70 564.35L146.96 562.98L147.21 562.41L147.47 561.42L147.72 559.43L147.98 559.00L148.23 557.04L148.49 556.89L148.74 555.33L149.00 554.72L149.25 552.95L149.51 552.61L149.76 552.09L150.02 551.61L150.27 551.37L150.52 552.44L150.78 552.37L151.03 553.19L151.29 554.44L151.54 554.23L151.80 555.58L152.05 556.40L152.31 558.27L152.56 559.06L152.82 560.28L153.07 561.19L153.33 562.73L153.58 563.52L153.84 564.35L154.09 565.34L154.35 565.88L154.60 566.46L154.86 567.09L155.11 567.50L155.37 567.90L155.62 568.25L155.88 568.49L156.13 568.65L156.39 568.84L156.64 568.96L156.64 569.30Z" fill="#f3b985" fill-opacity="0.75" stroke="#e6882c" stroke-width="0.75" stroke-linejoin="round"/>
<path d="M169.82 577.90L169.82 577.58L170.28 577.48L170.73 577.36L171.19 577.15L171.65 576.98L172.10 576.73L172.56 576.43L173.01 576.16L173.47 575.72L173.93 575.37L174.38 574.90L174.84 574.16L175.30 573.52L175.75 572.77L176.21 572.24L176.67 571.24L177.12 570.61L177.58 569.22L178.04 568.29L178.49 567.92L178.95 566.26L179.40 566.17L179.86 565.40L180.32 563.70L180.77 563.52L181.23 562.49L181.69 561.71L182.14 562.22L182.60 560.72L183.06 561.32L183.51 561.02L183.97 561.41L184.42 561.31L184.88 562.15L185.34 563.90L185.79 565.35L186.25 566.43L186.71 567.70L187.16 569.40L187.62 570.65L188.08 571.51L188.53 572.73L188.99 573.66L189.45 574.57L189.90 575.37L190.36 576.08L190.81 576.58L191.27 576.93L191.73 577.20L192.18 577.41L192.64 577.56L192.64 577.90Z" fill="#ef8e94" fill-opacity="0.9" stroke="#dd3a48" stroke-width="0.75" stroke-linejoin="round"/>
<path d="M145.60 577.90L145.60 577.87L145.77 577.86L145.94 577.84L146.10 577.82L146.27 577.80L146.44 577.77L146.61 577.73L146.78 577.69L146.94 577.64L147.11 577.58L147.28 577.51L147.45 577.43L147.62 577.35L147.78 577.25L147.95 577.15L148.12 577.05L148.29 576.94L148.46 576.83L148.62 576.72L148.79 576.62L148.96 576.53L149.13 576.45L149.30 576.39L149.46 576.34L149.63 576.31L149.80 576.30L149.97 576.31L150.14 576.34L150.30 576.39L150.47 576.45L150.64 576.53L150.81 576.62L150.98 576.72L151.14 576.83L151.31 576.94L151.48 577.05L151.65 577.15L151.82 577.25L151.98 577.35L152.15 577.43L152.32 577.51L152.49 577.58L152.66 577.64L152.82 577.69L152.99 577.73L153.16 577.77L153.33 577.80L153.50 577.82L153.66 577.84L153.83 577.86L154.00 577.87L154.00 577.90Z" fill="#ef8e94" stroke="#dd3a48" stroke-width="0.6"/>
<path d="M115.30 577.9H211.30" stroke="#333" stroke-width="0.9"/>
<path d="M116.23 577.9v1.2M118.66 577.9v1.2M120.54 577.9v1.2M122.09 577.9v1.2M123.39 577.9v1.2M124.52 577.9v1.2M125.51 577.9v1.2M126.40 577.9v2.2M132.26 577.9v1.2M135.68 577.9v1.2M138.11 577.9v1.2M139.99 577.9v1.2M141.54 577.9v1.2M142.84 577.9v1.2M143.97 577.9v1.2M144.96 577.9v1.2M145.85 577.9v2.2M151.71 577.9v1.2M155.13 577.9v1.2M157.56 577.9v1.2M159.44 577.9v1.2M160.99 577.9v1.2M162.29 577.9v1.2M163.42 577.9v1.2M164.41 577.9v1.2M165.30 577.9v2.2M171.16 577.9v1.2M174.58 577.9v1.2M177.01 577.9v1.2M178.89 577.9v1.2M180.44 577.9v1.2M181.74 577.9v1.2M182.87 577.9v1.2M183.86 577.9v1.2M184.75 577.9v2.2M190.61 577.9v1.2M194.03 577.9v1.2M196.46 577.9v1.2M198.34 577.9v1.2M199.89 577.9v1.2M201.19 577.9v1.2M202.32 577.9v1.2M203.31 577.9v1.2M204.20 577.9v2.2M210.06 577.9v1.2" stroke="#333" stroke-width="0.7"/>
<text x="121.10" y="589.6" font-size="7.3" fill="#3a3a3a">10<tspan font-size="4.6" dy="-3">1</tspan></text>
<text x="140.55" y="589.6" font-size="7.3" fill="#3a3a3a">10<tspan font-size="4.6" dy="-3">2</tspan></text>
<text x="160.00" y="589.6" font-size="7.3" fill="#3a3a3a">10<tspan font-size="4.6" dy="-3">3</tspan></text>
<text x="179.45" y="589.6" font-size="7.3" fill="#3a3a3a">10<tspan font-size="4.6" dy="-3">4</tspan></text>
<text x="198.90" y="589.6" font-size="7.3" fill="#3a3a3a">10<tspan font-size="4.6" dy="-3">5</tspan></text>
<text x="214.6" y="514.30" font-size="7.9" fill="#6a6a6a" textLength="24.4" lengthAdjust="spacingAndGlyphs">Isotype</text>
<text x="214.6" y="523.40" font-size="7.9" fill="#35a7dd" textLength="17.3" lengthAdjust="spacingAndGlyphs">Basal</text>
<text x="214.6" y="532.00" font-size="7.9" fill="#d8a072" textLength="16.3" lengthAdjust="spacingAndGlyphs">TSLP</text>
<text x="214.6" y="540.70" font-size="7.9" fill="#3f3f9f" textLength="12.4" lengthAdjust="spacingAndGlyphs">Rux</text>
<text x="214.6" y="549.60" font-size="7.9" fill="#d8a072" textLength="33.5" lengthAdjust="spacingAndGlyphs">TSLP+Rux</text>
<text x="214.6" y="558.30" font-size="7.9" fill="#3f3f9f" textLength="27.3" lengthAdjust="spacingAndGlyphs">Cmpd 8</text>
<text x="214.6" y="567.40" font-size="7.9" fill="#d8a072" textLength="48.5" lengthAdjust="spacingAndGlyphs">TSLP+Cmpd 8</text>
<text x="214.6" y="576.40" font-size="7.9" fill="#e2323e" textLength="41.3" lengthAdjust="spacingAndGlyphs">Pervanadate</text>
<text x="276.40" y="471.70" font-size="11.6" fill="#000" font-weight="bold" stroke="#000" stroke-width="0.55">H</text>
<text x="285.90" y="477.60" font-size="8.2" textLength="116.80" lengthAdjust="spacingAndGlyphs" fill="#333">SJBALL003145, Bone marrow cells</text>
<text x="292.90" y="510.10" font-size="7.8" textLength="26.60" lengthAdjust="spacingAndGlyphs" fill="#333" transform="rotate(-43 292.90 510.10)">Vehicle</text>
<text x="311.30" y="509.50" font-size="7.8" textLength="17.60" lengthAdjust="spacingAndGlyphs" fill="#333" transform="rotate(-43 311.30 509.50)">1 nM</text>
<text x="330.30" y="509.20" font-size="7.8" textLength="22.30" lengthAdjust="spacingAndGlyphs" fill="#333" transform="rotate(-43 330.30 509.20)">10 nM</text>
<text x="349.50" y="509.00" font-size="7.8" textLength="27.00" lengthAdjust="spacingAndGlyphs" fill="#333" transform="rotate(-43 349.50 509.00)">100 nM</text>
<text x="371.30" y="509.00" font-size="7.8" textLength="30.20" lengthAdjust="spacingAndGlyphs" fill="#333" transform="rotate(-43 371.30 509.00)">1000 nM</text>
<text x="391.70" y="509.00" font-size="7.8" textLength="36.40" lengthAdjust="spacingAndGlyphs" fill="#333" transform="rotate(-43 391.70 509.00)">10,000 nM</text>
<text x="425.00" y="501.70" font-size="7.8" textLength="28.60" lengthAdjust="spacingAndGlyphs" fill="#333">Cmpd 8,</text>
<text x="425.00" y="510.40" font-size="7.8" textLength="28.90" lengthAdjust="spacingAndGlyphs" fill="#333">24 hours</text>
<defs>
<filter id="bl" x="-20%" y="-100%" width="140%" height="300%"><feGaussianBlur stdDeviation="0.6"/></filter>
<filter id="bl2" x="-20%" y="-100%" width="140%" height="300%"><feGaussianBlur stdDeviation="0.9"/></filter>
<linearGradient id="gj" x1="0" y1="0" x2="0" y2="1"><stop offset="0" stop-color="#868686"/><stop offset="0.12" stop-color="#9e9e9e"/><stop offset="0.85" stop-color="#a6a6a6"/><stop offset="1" stop-color="#939393"/></linearGradient>
<linearGradient id="ga" x1="0" y1="0" x2="0" y2="1"><stop offset="0" stop-color="#bcbcbc"/><stop offset="0.25" stop-color="#cbcbcb"/><stop offset="1" stop-color="#d4d4d4"/></linearGradient>
<linearGradient id="gg" x1="0" y1="0" x2="0" y2="1"><stop offset="0" stop-color="#a2a2a2"/><stop offset="0.3" stop-color="#b0b0b0"/><stop offset="1" stop-color="#b6b6b6"/></linearGradient>
</defs>
<rect x="283.2" y="511.8" width="114.40" height="13.5" fill="url(#gj)"/>
<rect x="284.00" y="515.40" width="17.60" height="3.6" rx="1.5" fill="#7c7c7c" opacity="0.85" filter="url(#bl)"/>
<rect x="284.50" y="515.50" width="16.60" height="1.3" rx="0.6" fill="#626262" opacity="0.85" filter="url(#bl)"/>
<rect x="303.40" y="515.40" width="17.80" height="3.6" rx="1.5" fill="#7c7c7c" opacity="0.85" filter="url(#bl)"/>
<rect x="303.90" y="515.50" width="16.80" height="1.3" rx="0.6" fill="#626262" opacity="0.85" filter="url(#bl)"/>
<rect x="323.60" y="515.00" width="17.00" height="3.6" rx="1.5" fill="#7c7c7c" opacity="0.45" filter="url(#bl)"/>
<rect x="324.10" y="515.10" width="16.00" height="1.3" rx="0.6" fill="#626262" opacity="0.45" filter="url(#bl)"/>
<rect x="343.20" y="515.20" width="16.20" height="3.6" rx="1.5" fill="#7c7c7c" opacity="0.18" filter="url(#bl)"/>
<rect x="343.70" y="515.30" width="15.20" height="1.3" rx="0.6" fill="#626262" opacity="0.18" filter="url(#bl)"/>
<rect x="283.2" y="527.0" width="114.40" height="12.2" fill="url(#ga)"/>
<path d="M284.00 533.60L301.60 532.00L301.60 533.90L284.00 535.50Z" fill="#474747" filter="url(#bl)"/>
<path d="M284.00 535.50L301.60 533.90L301.60 535.50L284.00 537.10Z" fill="#a0a0a0" opacity="0.5" filter="url(#bl)"/>
<path d="M303.40 532.50L321.20 530.20L321.20 532.10L303.40 534.40Z" fill="#474747" filter="url(#bl)"/>
<path d="M303.40 534.40L321.20 532.10L321.20 533.70L303.40 536.00Z" fill="#a0a0a0" opacity="0.5" filter="url(#bl)"/>
<path d="M323.60 530.60L340.60 529.50L340.60 531.40L323.60 532.50Z" fill="#474747" filter="url(#bl)"/>
<path d="M323.60 532.50L340.60 531.40L340.60 533.00L323.60 534.10Z" fill="#a0a0a0" opacity="0.5" filter="url(#bl)"/>
<path d="M343.20 529.50L359.40 529.00L359.40 530.90L343.20 531.40Z" fill="#474747" filter="url(#bl)"/>
<path d="M343.20 531.40L359.40 530.90L359.40 532.50L343.20 533.00Z" fill="#a0a0a0" opacity="0.5" filter="url(#bl)"/>
<path d="M361.80 529.50L378.20 530.20L378.20 532.10L361.80 531.40Z" fill="#474747" filter="url(#bl)"/>
<path d="M361.80 531.40L378.20 532.10L378.20 533.70L361.80 533.00Z" fill="#a0a0a0" opacity="0.5" filter="url(#bl)"/>
<path d="M380.40 530.20L396.60 531.30L396.60 533.20L380.40 532.10Z" fill="#474747" filter="url(#bl)"/>
<path d="M380.40 532.10L396.60 533.20L396.60 534.80L380.40 533.70Z" fill="#a0a0a0" opacity="0.5" filter="url(#bl)"/>
<rect x="283.2" y="547.2" width="114.40" height="11.0" fill="url(#gg)"/>
<rect x="284.00" y="551.00" width="17.60" height="3.2" rx="1.2" fill="#7e7e7e" opacity="0.8" filter="url(#bl)"/>
<rect x="303.40" y="551.00" width="17.80" height="3.2" rx="1.2" fill="#7e7e7e" opacity="0.8" filter="url(#bl)"/>
<rect x="323.60" y="550.80" width="17.00" height="3.2" rx="1.2" fill="#7e7e7e" opacity="0.6" filter="url(#bl)"/>
<rect x="343.20" y="550.60" width="16.20" height="3.2" rx="1.2" fill="#7e7e7e" opacity="0.6" filter="url(#bl)"/>
<rect x="361.80" y="550.60" width="16.40" height="3.2" rx="1.2" fill="#7e7e7e" opacity="0.65" filter="url(#bl)"/>
<rect x="380.40" y="550.20" width="16.20" height="3.2" rx="1.2" fill="#7e7e7e" opacity="0.95" filter="url(#bl)"/>
<rect x="283.2" y="559.8" width="114.40" height="14.6" fill="url(#ga)"/>
<path d="M284.00 567.30L301.60 566.30L301.60 568.20L284.00 569.20Z" fill="#474747" filter="url(#bl)"/>
<path d="M284.00 569.20L301.60 568.20L301.60 569.80L284.00 570.80Z" fill="#a0a0a0" opacity="0.5" filter="url(#bl)"/>
<path d="M303.40 566.50L321.20 565.10L321.20 567.00L303.40 568.40Z" fill="#474747" filter="url(#bl)"/>
<path d="M303.40 568.40L321.20 567.00L321.20 568.60L303.40 570.00Z" fill="#a0a0a0" opacity="0.5" filter="url(#bl)"/>
<path d="M323.60 565.10L340.60 564.10L340.60 566.00L323.60 567.00Z" fill="#474747" filter="url(#bl)"/>
<path d="M323.60 567.00L340.60 566.00L340.60 567.60L323.60 568.60Z" fill="#a0a0a0" opacity="0.5" filter="url(#bl)"/>
<path d="M343.20 564.10L359.40 563.70L359.40 565.60L343.20 566.00Z" fill="#474747" filter="url(#bl)"/>
<path d="M343.20 566.00L359.40 565.60L359.40 567.20L343.20 567.60Z" fill="#a0a0a0" opacity="0.5" filter="url(#bl)"/>
<path d="M361.80 563.90L378.20 563.50L378.20 565.40L361.80 565.80Z" fill="#474747" filter="url(#bl)"/>
<path d="M361.80 565.80L378.20 565.40L378.20 567.00L361.80 567.40Z" fill="#a0a0a0" opacity="0.5" filter="url(#bl)"/>
<path d="M380.40 563.70L396.60 563.10L396.60 565.00L380.40 565.60Z" fill="#474747" filter="url(#bl)"/>
<path d="M380.40 565.60L396.60 565.00L396.60 566.60L380.40 567.20Z" fill="#a0a0a0" opacity="0.5" filter="url(#bl)"/>
<text x="291.50" y="546.20" font-size="7.2" text-anchor="middle" fill="#333">1</text>
<text x="311.80" y="546.20" font-size="7.2" text-anchor="middle" fill="#333">1</text>
<text x="332.90" y="546.20" font-size="7.2" text-anchor="middle" fill="#333">0.57</text>
<text x="351.00" y="546.20" font-size="7.2" text-anchor="middle" fill="#333">0.22</text>
<text x="370.80" y="546.20" font-size="7.2" text-anchor="middle" fill="#333">0.12</text>
<text x="390.20" y="546.20" font-size="7.2" text-anchor="middle" fill="#333">0.09</text>
<text x="292.00" y="583.60" font-size="7.2" text-anchor="middle" fill="#333">1</text>
<text x="311.70" y="583.60" font-size="7.2" text-anchor="middle" fill="#333">1.14</text>
<text x="332.50" y="583.60" font-size="7.2" text-anchor="middle" fill="#333">0.79</text>
<text x="351.00" y="583.60" font-size="7.2" text-anchor="middle" fill="#333">0.79</text>
<text x="370.70" y="583.60" font-size="7.2" text-anchor="middle" fill="#333">0.81</text>
<text x="390.30" y="583.60" font-size="7.2" text-anchor="middle" fill="#333">1.19</text>
<text x="399.90" y="522.70" font-size="8.6" textLength="17.10" lengthAdjust="spacingAndGlyphs" fill="#333">JAK2</text>
<text x="399.90" y="535.90" font-size="8.6" textLength="19.10" lengthAdjust="spacingAndGlyphs" fill="#333">ACTB</text>
<text x="399.90" y="555.70" font-size="8.6" textLength="21.90" lengthAdjust="spacingAndGlyphs" fill="#333">GSPT1</text>
<text x="399.90" y="570.00" font-size="8.6" textLength="19.10" lengthAdjust="spacingAndGlyphs" fill="#333">ACTB</text>
<rect x="0.5" y="0.5" width="519" height="596" fill="none" stroke="#1a1a1a" stroke-width="1.2"/>
</svg>
</body></html>
